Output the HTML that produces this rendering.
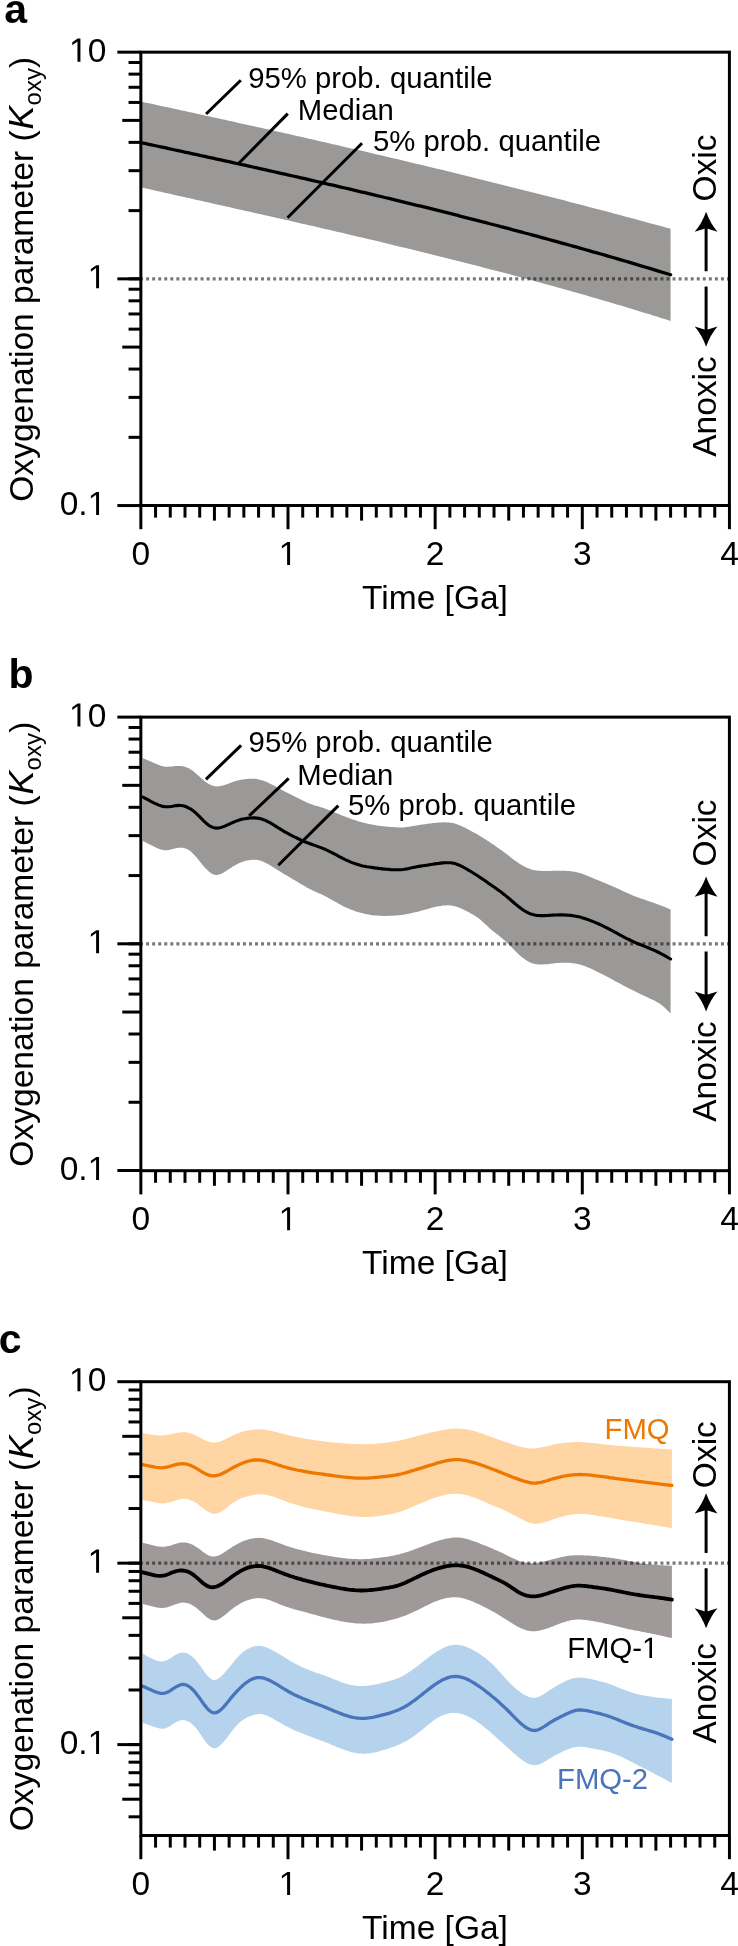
<!DOCTYPE html><html><head><meta charset="utf-8"><style>html,body{margin:0;padding:0;background:#fff}svg{display:block;will-change:transform}</style></head><body><svg width="738" height="1946" viewBox="0 0 738 1946">
<style>.t{font-family:"Liberation Sans",sans-serif;font-size:33.5px;fill:#000}.s{font-family:"Liberation Sans",sans-serif;font-size:29.3px;fill:#000}.p{font-family:"Liberation Sans",sans-serif;font-size:41px;font-weight:bold;fill:#000}</style>
<rect width="738" height="1946" fill="#fff"/>
<path d="M140.8,101.5L144.8,102.4L148.8,103.3L152.8,104.1L156.8,105.0L160.8,105.9L164.8,106.7L168.8,107.6L172.8,108.5L176.8,109.3L180.8,110.2L184.8,111.1L188.8,111.9L192.8,112.8L196.8,113.7L200.8,114.6L204.8,115.4L208.8,116.3L212.8,117.2L216.8,118.1L220.8,119.0L224.8,119.8L228.8,120.7L232.8,121.6L236.8,122.5L240.8,123.4L244.8,124.3L248.8,125.2L252.8,126.0L256.9,126.9L260.9,127.8L264.9,128.7L268.9,129.6L272.9,130.5L276.9,131.4L280.9,132.3L284.9,133.2L288.9,134.1L292.9,135.0L296.9,135.9L300.9,136.8L304.9,137.8L308.9,138.7L312.9,139.6L316.9,140.5L320.9,141.4L324.9,142.3L328.9,143.2L332.9,144.2L336.9,145.1L340.9,146.0L344.9,146.9L348.9,147.9L352.9,148.8L356.9,149.7L360.9,150.6L364.9,151.6L368.9,152.5L372.9,153.4L376.9,154.4L380.9,155.3L384.9,156.3L388.9,157.2L392.9,158.2L396.9,159.1L400.9,160.0L404.9,161.0L408.9,161.9L412.9,162.9L416.9,163.9L420.9,164.8L424.9,165.8L428.9,166.7L432.9,167.7L436.9,168.7L440.9,169.6L444.9,170.6L448.9,171.6L452.9,172.5L456.9,173.5L460.9,174.5L464.9,175.5L468.9,176.4L472.9,177.4L476.9,178.4L480.9,179.4L484.9,180.4L488.9,181.4L492.9,182.4L496.9,183.4L500.9,184.4L504.9,185.4L508.9,186.4L512.9,187.4L516.9,188.4L520.9,189.4L524.9,190.4L528.9,191.4L532.9,192.4L536.9,193.4L540.9,194.5L544.9,195.5L548.9,196.5L552.9,197.5L556.9,198.6L560.9,199.6L564.9,200.6L568.9,201.7L572.9,202.7L576.9,203.7L580.9,204.8L584.9,205.8L588.9,206.9L592.9,207.9L596.9,209.0L600.9,210.0L604.9,211.1L608.9,212.1L612.9,213.2L616.9,214.3L620.9,215.3L624.9,216.4L628.9,217.5L632.9,218.6L636.9,219.6L640.9,220.7L644.9,221.8L648.9,222.9L652.9,224.0L656.9,225.1L660.9,226.1L664.9,227.2L668.9,228.3L670.6,228.8 L670.59,320.95 L668.9,320.4L664.9,319.1L660.9,317.9L656.9,316.6L652.9,315.4L648.9,314.1L644.9,312.9L640.9,311.7L636.9,310.5L632.9,309.2L628.9,308.0L624.9,306.8L620.9,305.6L616.9,304.4L612.9,303.3L608.9,302.1L604.9,300.9L600.9,299.7L596.9,298.6L592.9,297.4L588.9,296.2L584.9,295.1L580.9,293.9L576.9,292.8L572.9,291.7L568.9,290.5L564.9,289.4L560.9,288.3L556.9,287.2L552.9,286.1L548.9,285.0L544.9,283.9L540.9,282.8L536.9,281.7L532.9,280.6L528.9,279.5L524.9,278.4L520.9,277.3L516.9,276.3L512.9,275.2L508.9,274.1L504.9,273.1L500.9,272.0L496.9,271.0L492.9,269.9L488.9,268.9L484.9,267.9L480.9,266.8L476.9,265.8L472.9,264.8L468.9,263.7L464.9,262.7L460.9,261.7L456.9,260.7L452.9,259.7L448.9,258.7L444.9,257.7L440.9,256.7L436.9,255.7L432.9,254.7L428.9,253.7L424.9,252.7L420.9,251.7L416.9,250.8L412.9,249.8L408.9,248.8L404.9,247.8L400.9,246.9L396.9,245.9L392.9,244.9L388.9,244.0L384.9,243.0L380.9,242.1L376.9,241.1L372.9,240.1L368.9,239.2L364.9,238.3L360.9,237.3L356.9,236.4L352.9,235.4L348.9,234.5L344.9,233.6L340.9,232.6L336.9,231.7L332.9,230.8L328.9,229.8L324.9,228.9L320.9,228.0L316.9,227.1L312.9,226.1L308.9,225.2L304.9,224.3L300.9,223.4L296.9,222.5L292.9,221.5L288.9,220.6L284.9,219.7L280.9,218.8L276.9,217.9L272.9,217.0L268.9,216.1L264.9,215.2L260.9,214.3L256.9,213.4L252.8,212.5L248.8,211.6L244.8,210.7L240.8,209.8L236.8,208.9L232.8,208.0L228.8,207.1L224.8,206.2L220.8,205.3L216.8,204.4L212.8,203.5L208.8,202.6L204.8,201.7L200.8,200.8L196.8,199.9L192.8,199.0L188.8,198.1L184.8,197.2L180.8,196.3L176.8,195.4L172.8,194.5L168.8,193.6L164.8,192.7L160.8,191.8L156.8,190.9L152.8,190.0L148.8,189.1L144.8,188.2L140.8,187.3 Z" fill="#9a9998"/>
<path d="M140.8,142.6L144.8,143.4L148.8,144.3L152.8,145.2L156.8,146.0L160.8,146.9L164.8,147.7L168.8,148.6L172.8,149.5L176.8,150.3L180.8,151.2L184.8,152.1L188.8,152.9L192.8,153.8L196.8,154.7L200.8,155.6L204.8,156.4L208.8,157.3L212.8,158.2L216.8,159.1L220.8,159.9L224.8,160.8L228.8,161.7L232.8,162.6L236.8,163.5L240.8,164.4L244.8,165.2L248.8,166.1L252.8,167.0L256.9,167.9L260.9,168.8L264.9,169.7L268.9,170.6L272.9,171.5L276.9,172.4L280.9,173.3L284.9,174.2L288.9,175.1L292.9,176.0L296.9,176.9L300.9,177.8L304.9,178.7L308.9,179.7L312.9,180.6L316.9,181.5L320.9,182.4L324.9,183.3L328.9,184.3L332.9,185.2L336.9,186.1L340.9,187.1L344.9,188.0L348.9,188.9L352.9,189.9L356.9,190.8L360.9,191.8L364.9,192.7L368.9,193.7L372.9,194.6L376.9,195.6L380.9,196.5L384.9,197.5L388.9,198.4L392.9,199.4L396.9,200.4L400.9,201.3L404.9,202.3L408.9,203.3L412.9,204.3L416.9,205.3L420.9,206.2L424.9,207.2L428.9,208.2L432.9,209.2L436.9,210.2L440.9,211.2L444.9,212.2L448.9,213.2L452.9,214.2L456.9,215.2L460.9,216.3L464.9,217.3L468.9,218.3L472.9,219.3L476.9,220.3L480.9,221.4L484.9,222.4L488.9,223.5L492.9,224.5L496.9,225.5L500.9,226.6L504.9,227.6L508.9,228.7L512.9,229.8L516.9,230.8L520.9,231.9L524.9,233.0L528.9,234.0L532.9,235.1L536.9,236.2L540.9,237.3L544.9,238.4L548.9,239.5L552.9,240.6L556.9,241.7L560.9,242.8L564.9,243.9L568.9,245.0L572.9,246.1L576.9,247.2L580.9,248.4L584.9,249.5L588.9,250.6L592.9,251.8L596.9,252.9L600.9,254.0L604.9,255.2L608.9,256.4L612.9,257.5L616.9,258.7L620.9,259.8L624.9,261.0L628.9,262.2L632.9,263.4L636.9,264.6L640.9,265.8L644.9,267.0L648.9,268.2L652.9,269.4L656.9,270.6L660.9,271.8L664.9,273.0L668.9,274.2L670.6,274.8" fill="none" stroke="#000" stroke-width="3.3" stroke-linecap="round"/>
<line x1="140.05" y1="278.85" x2="729" y2="278.85" stroke="#000" stroke-opacity="0.53" stroke-width="3.3" stroke-dasharray="3.0 3.051"/>
<path d="M142.8,758.1L144.8,758.9L146.8,759.8L148.8,760.7L150.8,761.6L152.8,762.5L154.8,763.3L156.8,764.2L158.8,765.0L160.8,765.8L162.8,766.3L164.8,766.7L166.8,766.8L168.8,766.8L170.8,766.6L172.8,766.4L174.8,766.1L176.8,766.0L178.8,765.9L180.8,766.0L182.8,766.3L184.8,766.7L186.8,767.4L188.8,768.3L190.8,769.5L192.8,770.8L194.8,772.4L196.8,774.2L198.8,776.0L200.8,777.8L202.8,779.6L204.8,781.3L206.8,782.7L208.8,784.0L210.8,785.0L212.8,785.7L214.8,786.2L216.8,786.4L218.8,786.3L220.8,786.0L222.8,785.5L224.8,784.9L226.8,784.2L228.8,783.4L230.8,782.7L232.8,781.9L234.8,781.3L236.8,780.7L238.8,780.2L240.8,779.8L242.8,779.5L244.8,779.2L246.8,779.0L248.8,778.8L250.8,778.8L252.8,778.7L254.8,778.8L256.8,779.0L258.8,779.4L260.8,779.9L262.8,780.5L264.8,781.3L266.8,782.1L268.8,783.0L270.8,784.0L272.8,785.1L274.8,786.1L276.8,787.2L278.8,788.3L280.8,789.3L282.8,790.4L284.8,791.4L286.8,792.4L288.8,793.4L290.8,794.4L292.8,795.4L294.8,796.4L296.8,797.5L298.8,798.5L300.8,799.5L302.8,800.5L304.8,801.5L306.8,802.4L308.8,803.2L310.8,804.0L312.8,804.7L314.8,805.4L316.8,806.0L318.8,806.6L320.8,807.2L322.8,807.8L324.8,808.5L326.8,809.2L328.8,809.9L330.8,810.7L332.8,811.6L334.8,812.4L336.8,813.3L338.8,814.1L340.8,814.9L342.8,815.7L344.8,816.5L346.8,817.3L348.8,818.1L350.8,818.8L352.8,819.5L354.8,820.1L356.8,820.8L358.8,821.4L360.8,821.9L362.8,822.5L364.8,823.0L366.8,823.4L368.8,823.9L370.8,824.3L372.8,824.7L374.8,825.1L376.8,825.4L378.8,825.7L380.8,826.0L382.8,826.2L384.8,826.4L386.8,826.6L388.8,826.8L390.8,826.9L392.8,827.1L394.8,827.2L396.8,827.3L398.8,827.4L400.8,827.4L402.8,827.4L404.8,827.3L406.8,827.1L408.8,826.8L410.8,826.5L412.8,826.1L414.8,825.8L416.8,825.5L418.8,825.1L420.8,824.8L422.8,824.5L424.8,824.2L426.8,823.9L428.8,823.6L430.8,823.4L432.8,823.1L434.8,822.9L436.8,822.7L438.8,822.6L440.8,822.4L442.8,822.3L444.8,822.3L446.8,822.4L448.8,822.5L450.8,822.7L452.8,823.1L454.8,823.5L456.8,824.2L458.8,824.9L460.8,825.7L462.8,826.7L464.8,827.6L466.8,828.7L468.8,829.7L470.8,830.8L472.8,831.9L474.8,833.0L476.8,834.1L478.8,835.2L480.8,836.4L482.8,837.7L484.8,838.9L486.8,840.2L488.8,841.6L490.8,842.9L492.8,844.2L494.8,845.6L496.8,847.0L498.8,848.4L500.8,849.8L502.8,851.3L504.8,852.8L506.8,854.3L508.8,855.8L510.8,857.4L512.8,858.9L514.8,860.4L516.8,861.8L518.8,863.2L520.8,864.5L522.8,865.7L524.8,866.8L526.8,867.8L528.8,868.6L530.8,869.3L532.8,869.9L534.8,870.3L536.8,870.6L538.8,870.7L540.8,870.8L542.8,870.9L544.8,870.9L546.8,870.9L548.8,870.9L550.8,870.9L552.8,870.8L554.8,870.8L556.8,870.8L558.8,870.7L560.8,870.7L562.8,870.7L564.8,870.8L566.8,870.9L568.8,871.0L570.8,871.2L572.8,871.5L574.8,871.8L576.8,872.2L578.8,872.7L580.8,873.3L582.8,874.0L584.8,874.8L586.8,875.5L588.8,876.4L590.8,877.2L592.8,878.1L594.8,878.9L596.8,879.7L598.8,880.5L600.8,881.3L602.8,882.2L604.8,883.0L606.8,883.8L608.8,884.7L610.8,885.5L612.8,886.4L614.8,887.3L616.8,888.2L618.8,889.1L620.8,890.1L622.8,891.0L624.8,891.9L626.8,892.8L628.8,893.7L630.8,894.6L632.8,895.5L634.8,896.3L636.8,897.0L638.8,897.8L640.8,898.5L642.8,899.1L644.8,899.8L646.8,900.5L648.8,901.2L650.8,901.8L652.8,902.5L654.8,903.2L656.8,903.9L658.8,904.7L660.8,905.5L662.8,906.3L664.8,907.1L666.8,907.9L668.8,908.8L670.6,909.6 L670.59,1013.48 L668.8,1011.7L666.8,1009.7L664.8,1007.8L662.8,1006.1L660.8,1004.5L658.8,1003.1L656.8,1001.9L654.8,1000.8L652.8,999.8L650.8,998.9L648.8,998.0L646.8,997.1L644.8,996.1L642.8,995.2L640.8,994.2L638.8,993.2L636.8,992.2L634.8,991.2L632.8,990.2L630.8,989.2L628.8,988.2L626.8,987.2L624.8,986.2L622.8,985.2L620.8,984.1L618.8,983.1L616.8,982.0L614.8,980.9L612.8,979.8L610.8,978.7L608.8,977.6L606.8,976.6L604.8,975.5L602.8,974.4L600.8,973.4L598.8,972.4L596.8,971.4L594.8,970.4L592.8,969.5L590.8,968.6L588.8,967.7L586.8,966.9L584.8,966.1L582.8,965.4L580.8,964.8L578.8,964.3L576.8,963.8L574.8,963.5L572.8,963.2L570.8,963.0L568.8,962.8L566.8,962.7L564.8,962.7L562.8,962.7L560.8,962.8L558.8,963.0L556.8,963.1L554.8,963.3L552.8,963.5L550.8,963.8L548.8,964.0L546.8,964.2L544.8,964.3L542.8,964.5L540.8,964.5L538.8,964.5L536.8,964.3L534.8,964.0L532.8,963.5L530.8,962.8L528.8,961.8L526.8,960.7L524.8,959.3L522.8,957.8L520.8,956.2L518.8,954.4L516.8,952.5L514.8,950.5L512.8,948.5L510.8,946.5L508.8,944.5L506.8,942.5L504.8,940.6L502.8,938.9L500.8,937.2L498.8,935.6L496.8,934.1L494.8,932.5L492.8,930.9L490.8,929.3L488.8,927.5L486.8,925.6L484.8,923.7L482.8,921.9L480.8,920.1L478.8,918.6L476.8,917.1L474.8,915.8L472.8,914.6L470.8,913.4L468.8,912.3L466.8,911.3L464.8,910.2L462.8,909.2L460.8,908.3L458.8,907.5L456.8,906.8L454.8,906.2L452.8,905.8L450.8,905.5L448.8,905.3L446.8,905.3L444.8,905.4L442.8,905.6L440.8,905.9L438.8,906.2L436.8,906.6L434.8,907.1L432.8,907.6L430.8,908.1L428.8,908.7L426.8,909.2L424.8,909.8L422.8,910.3L420.8,910.8L418.8,911.4L416.8,911.9L414.8,912.3L412.8,912.8L410.8,913.2L408.8,913.7L406.8,914.0L404.8,914.4L402.8,914.7L400.8,915.0L398.8,915.2L396.8,915.4L394.8,915.5L392.8,915.7L390.8,915.8L388.8,915.8L386.8,915.9L384.8,915.9L382.8,915.9L380.8,915.8L378.8,915.7L376.8,915.6L374.8,915.4L372.8,915.2L370.8,914.9L368.8,914.5L366.8,914.2L364.8,913.8L362.8,913.3L360.8,912.8L358.8,912.3L356.8,911.7L354.8,911.1L352.8,910.3L350.8,909.6L348.8,908.7L346.8,907.8L344.8,906.9L342.8,905.9L340.8,904.8L338.8,903.7L336.8,902.6L334.8,901.5L332.8,900.4L330.8,899.3L328.8,898.2L326.8,897.1L324.8,896.0L322.8,895.0L320.8,894.1L318.8,893.2L316.8,892.3L314.8,891.4L312.8,890.4L310.8,889.5L308.8,888.4L306.8,887.4L304.8,886.2L302.8,885.1L300.8,883.9L298.8,882.7L296.8,881.5L294.8,880.3L292.8,879.2L290.8,878.0L288.8,876.8L286.8,875.6L284.8,874.5L282.8,873.3L280.8,872.0L278.8,870.8L276.8,869.5L274.8,868.2L272.8,867.0L270.8,865.8L268.8,864.6L266.8,863.5L264.8,862.4L262.8,861.5L260.8,860.7L258.8,860.2L256.8,859.8L254.8,859.7L252.8,859.7L250.8,859.9L248.8,860.2L246.8,860.5L244.8,861.0L242.8,861.7L240.8,862.4L238.8,863.3L236.8,864.2L234.8,865.4L232.8,866.6L230.8,867.9L228.8,869.2L226.8,870.5L224.8,871.8L222.8,873.0L220.8,874.0L218.8,874.6L216.8,875.0L214.8,874.8L212.8,874.2L210.8,873.1L208.8,871.5L206.8,869.6L204.8,867.5L202.8,865.2L200.8,862.7L198.8,860.3L196.8,857.8L194.8,855.5L192.8,853.4L190.8,851.6L188.8,850.1L186.8,849.0L184.8,848.2L182.8,847.8L180.8,847.7L178.8,847.8L176.8,848.1L174.8,848.6L172.8,849.1L170.8,849.6L168.8,850.0L166.8,850.2L164.8,850.2L162.8,850.0L160.8,849.5L158.8,848.8L156.8,848.0L154.8,847.0L152.8,846.0L150.8,845.0L148.8,844.0L146.8,843.0L144.8,842.0L142.8,841.1 Z" fill="#9a9998"/>
<path d="M142.8,797.2L144.8,798.2L146.8,799.2L148.8,800.2L150.8,801.3L152.8,802.3L154.8,803.3L156.8,804.2L158.8,805.1L160.8,805.8L162.8,806.4L164.8,806.7L166.8,806.8L168.8,806.7L170.8,806.5L172.8,806.2L174.8,805.8L176.8,805.6L178.8,805.4L180.8,805.5L182.8,805.8L184.8,806.3L186.8,807.0L188.8,808.0L190.8,809.1L192.8,810.5L194.8,812.1L196.8,813.9L198.8,815.9L200.8,817.9L202.8,820.0L204.8,822.0L206.8,823.8L208.8,825.3L210.8,826.5L212.8,827.4L214.8,827.9L216.8,828.1L218.8,828.0L220.8,827.5L222.8,826.9L224.8,826.1L226.8,825.2L228.8,824.3L230.8,823.4L232.8,822.5L234.8,821.6L236.8,820.9L238.8,820.2L240.8,819.6L242.8,819.1L244.8,818.7L246.8,818.4L248.8,818.1L250.8,818.0L252.8,817.9L254.8,817.9L256.8,818.1L258.8,818.4L260.8,818.8L262.8,819.4L264.8,820.2L266.8,821.1L268.8,822.1L270.8,823.2L272.8,824.4L274.8,825.6L276.8,826.9L278.8,828.2L280.8,829.4L282.8,830.6L284.8,831.8L286.8,832.9L288.8,834.0L290.8,835.0L292.8,836.1L294.8,837.1L296.8,838.0L298.8,839.0L300.8,839.9L302.8,840.8L304.8,841.7L306.8,842.5L308.8,843.3L310.8,844.0L312.8,844.7L314.8,845.4L316.8,846.1L318.8,846.9L320.8,847.6L322.8,848.4L324.8,849.2L326.8,850.2L328.8,851.1L330.8,852.1L332.8,853.1L334.8,854.2L336.8,855.2L338.8,856.3L340.8,857.3L342.8,858.4L344.8,859.4L346.8,860.3L348.8,861.2L350.8,862.1L352.8,862.9L354.8,863.6L356.8,864.2L358.8,864.8L360.8,865.4L362.8,865.9L364.8,866.3L366.8,866.7L368.8,867.0L370.8,867.3L372.8,867.6L374.8,867.9L376.8,868.1L378.8,868.4L380.8,868.6L382.8,868.9L384.8,869.1L386.8,869.3L388.8,869.4L390.8,869.6L392.8,869.7L394.8,869.8L396.8,869.8L398.8,869.8L400.8,869.7L402.8,869.5L404.8,869.2L406.8,868.9L408.8,868.5L410.8,868.0L412.8,867.6L414.8,867.2L416.8,866.8L418.8,866.4L420.8,866.1L422.8,865.8L424.8,865.5L426.8,865.2L428.8,864.9L430.8,864.5L432.8,864.2L434.8,863.9L436.8,863.6L438.8,863.4L440.8,863.1L442.8,862.9L444.8,862.7L446.8,862.7L448.8,862.7L450.8,862.8L452.8,863.1L454.8,863.6L456.8,864.2L458.8,865.0L460.8,865.9L462.8,866.9L464.8,868.0L466.8,869.2L468.8,870.3L470.8,871.5L472.8,872.7L474.8,874.0L476.8,875.2L478.8,876.5L480.8,877.9L482.8,879.2L484.8,880.6L486.8,882.0L488.8,883.4L490.8,884.8L492.8,886.2L494.8,887.6L496.8,889.0L498.8,890.4L500.8,891.8L502.8,893.4L504.8,894.9L506.8,896.6L508.8,898.3L510.8,900.0L512.8,901.8L514.8,903.5L516.8,905.1L518.8,906.8L520.8,908.3L522.8,909.7L524.8,911.0L526.8,912.2L528.8,913.2L530.8,914.0L532.8,914.6L534.8,915.1L536.8,915.4L538.8,915.5L540.8,915.6L542.8,915.6L544.8,915.6L546.8,915.5L548.8,915.4L550.8,915.3L552.8,915.1L554.8,915.0L556.8,915.0L558.8,914.9L560.8,914.9L562.8,914.9L564.8,915.0L566.8,915.1L568.8,915.2L570.8,915.4L572.8,915.7L574.8,916.0L576.8,916.4L578.8,916.8L580.8,917.3L582.8,917.9L584.8,918.5L586.8,919.2L588.8,919.9L590.8,920.7L592.8,921.4L594.8,922.3L596.8,923.1L598.8,924.0L600.8,924.9L602.8,925.8L604.8,926.8L606.8,927.8L608.8,928.8L610.8,929.9L612.8,931.0L614.8,932.1L616.8,933.2L618.8,934.3L620.8,935.4L622.8,936.5L624.8,937.5L626.8,938.6L628.8,939.5L630.8,940.5L632.8,941.4L634.8,942.3L636.8,943.2L638.8,944.0L640.8,944.8L642.8,945.6L644.8,946.4L646.8,947.2L648.8,948.0L650.8,948.9L652.8,949.7L654.8,950.6L656.8,951.5L658.8,952.5L660.8,953.5L662.8,954.6L664.8,955.7L666.8,956.8L668.8,958.0L670.6,959.0" fill="none" stroke="#000" stroke-width="3.1" stroke-linecap="round"/>
<line x1="140.05" y1="943.80" x2="729" y2="943.80" stroke="#000" stroke-opacity="0.53" stroke-width="3.3" stroke-dasharray="3.0 3.051"/>
<path d="M142.8,1433.0L144.8,1433.4L146.8,1433.8L148.8,1434.1L150.8,1434.4L152.8,1434.8L154.8,1435.0L156.8,1435.2L158.8,1435.4L160.8,1435.4L162.8,1435.4L164.8,1435.2L166.8,1434.9L168.8,1434.6L170.8,1434.2L172.8,1433.7L174.8,1433.3L176.8,1432.9L178.8,1432.5L180.8,1432.3L182.8,1432.2L184.8,1432.3L186.8,1432.5L188.8,1432.9L190.8,1433.4L192.8,1434.1L194.8,1434.9L196.8,1435.8L198.8,1436.9L200.8,1438.0L202.8,1439.1L204.8,1440.2L206.8,1441.1L208.8,1441.8L210.8,1442.3L212.8,1442.6L214.8,1442.6L216.8,1442.3L218.8,1441.9L220.8,1441.2L222.8,1440.4L224.8,1439.5L226.8,1438.5L228.8,1437.5L230.8,1436.5L232.8,1435.5L234.8,1434.6L236.8,1433.7L238.8,1432.9L240.8,1432.2L242.8,1431.6L244.8,1431.1L246.8,1430.7L248.8,1430.3L250.8,1430.0L252.8,1429.7L254.8,1429.5L256.8,1429.4L258.8,1429.3L260.8,1429.4L262.8,1429.5L264.8,1429.7L266.8,1430.0L268.8,1430.4L270.8,1430.8L272.8,1431.2L274.8,1431.7L276.8,1432.2L278.8,1432.8L280.8,1433.3L282.8,1433.8L284.8,1434.3L286.8,1434.8L288.8,1435.3L290.8,1435.8L292.8,1436.2L294.8,1436.7L296.8,1437.1L298.8,1437.5L300.8,1437.9L302.8,1438.3L304.8,1438.7L306.8,1439.0L308.8,1439.3L310.8,1439.6L312.8,1439.9L314.8,1440.2L316.8,1440.5L318.8,1440.8L320.8,1441.0L322.8,1441.3L324.8,1441.5L326.8,1441.7L328.8,1441.9L330.8,1442.2L332.8,1442.4L334.8,1442.6L336.8,1442.8L338.8,1443.0L340.8,1443.1L342.8,1443.3L344.8,1443.5L346.8,1443.6L348.8,1443.7L350.8,1443.9L352.8,1444.0L354.8,1444.1L356.8,1444.1L358.8,1444.2L360.8,1444.2L362.8,1444.2L364.8,1444.2L366.8,1444.1L368.8,1444.1L370.8,1444.0L372.8,1443.9L374.8,1443.8L376.8,1443.6L378.8,1443.5L380.8,1443.3L382.8,1443.1L384.8,1442.9L386.8,1442.6L388.8,1442.4L390.8,1442.1L392.8,1441.8L394.8,1441.4L396.8,1441.1L398.8,1440.7L400.8,1440.2L402.8,1439.8L404.8,1439.3L406.8,1438.8L408.8,1438.3L410.8,1437.7L412.8,1437.2L414.8,1436.7L416.8,1436.1L418.8,1435.6L420.8,1435.1L422.8,1434.6L424.8,1434.1L426.8,1433.6L428.8,1433.1L430.8,1432.6L432.8,1432.1L434.8,1431.7L436.8,1431.2L438.8,1430.8L440.8,1430.4L442.8,1430.0L444.8,1429.7L446.8,1429.4L448.8,1429.1L450.8,1428.9L452.8,1428.7L454.8,1428.6L456.8,1428.6L458.8,1428.6L460.8,1428.7L462.8,1428.9L464.8,1429.1L466.8,1429.5L468.8,1429.8L470.8,1430.3L472.8,1430.7L474.8,1431.3L476.8,1431.9L478.8,1432.5L480.8,1433.1L482.8,1433.8L484.8,1434.5L486.8,1435.3L488.8,1436.0L490.8,1436.7L492.8,1437.5L494.8,1438.2L496.8,1438.9L498.8,1439.7L500.8,1440.4L502.8,1441.1L504.8,1441.8L506.8,1442.5L508.8,1443.1L510.8,1443.8L512.8,1444.5L514.8,1445.1L516.8,1445.7L518.8,1446.3L520.8,1446.8L522.8,1447.3L524.8,1447.7L526.8,1448.0L528.8,1448.3L530.8,1448.4L532.8,1448.5L534.8,1448.4L536.8,1448.2L538.8,1447.9L540.8,1447.5L542.8,1447.1L544.8,1446.7L546.8,1446.2L548.8,1445.7L550.8,1445.2L552.8,1444.7L554.8,1444.3L556.8,1443.9L558.8,1443.5L560.8,1443.2L562.8,1443.0L564.8,1442.7L566.8,1442.5L568.8,1442.4L570.8,1442.3L572.8,1442.2L574.8,1442.1L576.8,1442.1L578.8,1442.1L580.8,1442.2L582.8,1442.3L584.8,1442.4L586.8,1442.6L588.8,1442.7L590.8,1442.9L592.8,1443.1L594.8,1443.3L596.8,1443.6L598.8,1443.8L600.8,1444.0L602.8,1444.2L604.8,1444.5L606.8,1444.7L608.8,1444.9L610.8,1445.1L612.8,1445.3L614.8,1445.5L616.8,1445.7L618.8,1445.8L620.8,1446.0L622.8,1446.1L624.8,1446.3L626.8,1446.4L628.8,1446.6L630.8,1446.7L632.8,1446.9L634.8,1447.0L636.8,1447.1L638.8,1447.3L640.8,1447.4L642.8,1447.5L644.8,1447.7L646.8,1447.8L648.8,1447.9L650.8,1448.1L652.8,1448.2L654.8,1448.4L656.8,1448.5L658.8,1448.6L660.8,1448.8L662.8,1448.9L664.8,1449.0L666.8,1449.2L668.8,1449.3L670.8,1449.4L671.9,1449.5 L671.90,1528.20 L670.8,1528.0L668.8,1527.7L666.8,1527.3L664.8,1527.0L662.8,1526.7L660.8,1526.3L658.8,1526.0L656.8,1525.6L654.8,1525.3L652.8,1525.0L650.8,1524.6L648.8,1524.3L646.8,1524.0L644.8,1523.6L642.8,1523.3L640.8,1523.0L638.8,1522.6L636.8,1522.3L634.8,1522.0L632.8,1521.7L630.8,1521.3L628.8,1521.0L626.8,1520.7L624.8,1520.4L622.8,1520.0L620.8,1519.7L618.8,1519.4L616.8,1519.0L614.8,1518.7L612.8,1518.3L610.8,1518.0L608.8,1517.6L606.8,1517.3L604.8,1516.9L602.8,1516.6L600.8,1516.2L598.8,1515.9L596.8,1515.5L594.8,1515.2L592.8,1514.9L590.8,1514.7L588.8,1514.5L586.8,1514.3L584.8,1514.1L582.8,1514.0L580.8,1514.0L578.8,1514.0L576.8,1514.1L574.8,1514.3L572.8,1514.5L570.8,1514.8L568.8,1515.1L566.8,1515.5L564.8,1516.0L562.8,1516.5L560.8,1517.0L558.8,1517.6L556.8,1518.2L554.8,1518.8L552.8,1519.5L550.8,1520.2L548.8,1520.9L546.8,1521.6L544.8,1522.2L542.8,1522.7L540.8,1523.2L538.8,1523.5L536.8,1523.7L534.8,1523.7L532.8,1523.5L530.8,1523.0L528.8,1522.4L526.8,1521.7L524.8,1520.8L522.8,1519.8L520.8,1518.8L518.8,1517.7L516.8,1516.6L514.8,1515.5L512.8,1514.4L510.8,1513.4L508.8,1512.3L506.8,1511.4L504.8,1510.5L502.8,1509.6L500.8,1508.7L498.8,1507.9L496.8,1507.1L494.8,1506.3L492.8,1505.4L490.8,1504.6L488.8,1503.7L486.8,1502.8L484.8,1502.0L482.8,1501.1L480.8,1500.2L478.8,1499.4L476.8,1498.6L474.8,1497.8L472.8,1497.1L470.8,1496.5L468.8,1495.8L466.8,1495.3L464.8,1494.8L462.8,1494.4L460.8,1494.1L458.8,1493.9L456.8,1493.7L454.8,1493.7L452.8,1493.8L450.8,1493.9L448.8,1494.1L446.8,1494.5L444.8,1494.9L442.8,1495.4L440.8,1495.9L438.8,1496.5L436.8,1497.2L434.8,1497.9L432.8,1498.6L430.8,1499.3L428.8,1500.1L426.8,1500.9L424.8,1501.7L422.8,1502.5L420.8,1503.3L418.8,1504.1L416.8,1505.0L414.8,1505.8L412.8,1506.7L410.8,1507.5L408.8,1508.4L406.8,1509.2L404.8,1510.0L402.8,1510.8L400.8,1511.5L398.8,1512.1L396.8,1512.7L394.8,1513.2L392.8,1513.7L390.8,1514.1L388.8,1514.5L386.8,1514.8L384.8,1515.1L382.8,1515.4L380.8,1515.7L378.8,1515.9L376.8,1516.2L374.8,1516.4L372.8,1516.6L370.8,1516.7L368.8,1516.9L366.8,1516.9L364.8,1517.0L362.8,1517.0L360.8,1516.9L358.8,1516.8L356.8,1516.7L354.8,1516.5L352.8,1516.3L350.8,1516.0L348.8,1515.7L346.8,1515.4L344.8,1515.1L342.8,1514.8L340.8,1514.4L338.8,1514.0L336.8,1513.7L334.8,1513.3L332.8,1512.9L330.8,1512.5L328.8,1512.1L326.8,1511.7L324.8,1511.4L322.8,1511.0L320.8,1510.6L318.8,1510.3L316.8,1509.9L314.8,1509.5L312.8,1509.1L310.8,1508.6L308.8,1508.2L306.8,1507.7L304.8,1507.2L302.8,1506.7L300.8,1506.2L298.8,1505.6L296.8,1505.0L294.8,1504.3L292.8,1503.7L290.8,1503.0L288.8,1502.4L286.8,1501.7L284.8,1500.9L282.8,1500.2L280.8,1499.5L278.8,1498.7L276.8,1498.0L274.8,1497.2L272.8,1496.6L270.8,1495.9L268.8,1495.4L266.8,1494.9L264.8,1494.5L262.8,1494.3L260.8,1494.2L258.8,1494.2L256.8,1494.4L254.8,1494.7L252.8,1495.1L250.8,1495.5L248.8,1496.0L246.8,1496.5L244.8,1497.0L242.8,1497.7L240.8,1498.5L238.8,1499.4L236.8,1500.5L234.8,1501.7L232.8,1503.1L230.8,1504.5L228.8,1506.1L226.8,1507.7L224.8,1509.2L222.8,1510.6L220.8,1511.9L218.8,1512.8L216.8,1513.5L214.8,1513.8L212.8,1513.6L210.8,1513.0L208.8,1512.1L206.8,1510.9L204.8,1509.5L202.8,1508.0L200.8,1506.5L198.8,1505.0L196.8,1503.6L194.8,1502.3L192.8,1501.1L190.8,1500.2L188.8,1499.5L186.8,1499.0L184.8,1498.8L182.8,1498.8L180.8,1499.0L178.8,1499.4L176.8,1500.0L174.8,1500.7L172.8,1501.3L170.8,1502.0L168.8,1502.5L166.8,1503.0L164.8,1503.3L162.8,1503.4L160.8,1503.3L158.8,1503.1L156.8,1502.8L154.8,1502.5L152.8,1502.0L150.8,1501.6L148.8,1501.2L146.8,1500.8L144.8,1500.5L142.8,1500.1 Z" fill="#fed5a3"/>
<path d="M142.8,1542.8L144.8,1543.3L146.8,1543.8L148.8,1544.3L150.8,1544.8L152.8,1545.3L154.8,1545.8L156.8,1546.2L158.8,1546.5L160.8,1546.7L162.8,1546.8L164.8,1546.7L166.8,1546.3L168.8,1545.9L170.8,1545.4L172.8,1544.7L174.8,1544.1L176.8,1543.5L178.8,1543.0L180.8,1542.6L182.8,1542.4L184.8,1542.5L186.8,1542.7L188.8,1543.2L190.8,1543.9L192.8,1544.8L194.8,1545.9L196.8,1547.2L198.8,1548.6L200.8,1550.1L202.8,1551.7L204.8,1553.1L206.8,1554.5L208.8,1555.5L210.8,1556.2L212.8,1556.6L214.8,1556.5L216.8,1556.1L218.8,1555.4L220.8,1554.5L222.8,1553.3L224.8,1552.0L226.8,1550.6L228.8,1549.2L230.8,1547.9L232.8,1546.6L234.8,1545.4L236.8,1544.2L238.8,1543.2L240.8,1542.2L242.8,1541.3L244.8,1540.6L246.8,1539.9L248.8,1539.3L250.8,1538.8L252.8,1538.4L254.8,1538.1L256.8,1537.9L258.8,1537.8L260.8,1537.9L262.8,1538.1L264.8,1538.5L266.8,1538.9L268.8,1539.5L270.8,1540.1L272.8,1540.8L274.8,1541.5L276.8,1542.2L278.8,1543.0L280.8,1543.7L282.8,1544.5L284.8,1545.2L286.8,1545.9L288.8,1546.5L290.8,1547.2L292.8,1547.8L294.8,1548.4L296.8,1548.9L298.8,1549.5L300.8,1550.0L302.8,1550.6L304.8,1551.1L306.8,1551.5L308.8,1552.0L310.8,1552.4L312.8,1552.9L314.8,1553.3L316.8,1553.7L318.8,1554.1L320.8,1554.5L322.8,1554.9L324.8,1555.2L326.8,1555.6L328.8,1555.9L330.8,1556.2L332.8,1556.6L334.8,1556.9L336.8,1557.2L338.8,1557.5L340.8,1557.8L342.8,1558.0L344.8,1558.3L346.8,1558.5L348.8,1558.7L350.8,1558.8L352.8,1559.0L354.8,1559.1L356.8,1559.1L358.8,1559.2L360.8,1559.2L362.8,1559.2L364.8,1559.1L366.8,1559.0L368.8,1558.9L370.8,1558.7L372.8,1558.5L374.8,1558.3L376.8,1558.1L378.8,1557.8L380.8,1557.6L382.8,1557.3L384.8,1557.0L386.8,1556.7L388.8,1556.4L390.8,1556.0L392.8,1555.7L394.8,1555.3L396.8,1554.8L398.8,1554.4L400.8,1553.8L402.8,1553.3L404.8,1552.7L406.8,1552.1L408.8,1551.4L410.8,1550.7L412.8,1550.0L414.8,1549.3L416.8,1548.5L418.8,1547.7L420.8,1547.0L422.8,1546.2L424.8,1545.4L426.8,1544.7L428.8,1543.9L430.8,1543.2L432.8,1542.5L434.8,1541.8L436.8,1541.2L438.8,1540.6L440.8,1540.0L442.8,1539.5L444.8,1539.0L446.8,1538.6L448.8,1538.2L450.8,1537.9L452.8,1537.6L454.8,1537.5L456.8,1537.4L458.8,1537.5L460.8,1537.7L462.8,1538.1L464.8,1538.5L466.8,1539.0L468.8,1539.5L470.8,1540.2L472.8,1540.9L474.8,1541.6L476.8,1542.3L478.8,1543.1L480.8,1543.9L482.8,1544.7L484.8,1545.5L486.8,1546.3L488.8,1547.1L490.8,1548.0L492.8,1548.8L494.8,1549.7L496.8,1550.6L498.8,1551.4L500.8,1552.3L502.8,1553.3L504.8,1554.2L506.8,1555.2L508.8,1556.2L510.8,1557.2L512.8,1558.2L514.8,1559.1L516.8,1560.0L518.8,1560.8L520.8,1561.5L522.8,1562.1L524.8,1562.5L526.8,1562.8L528.8,1563.0L530.8,1563.2L532.8,1563.2L534.8,1563.1L536.8,1562.9L538.8,1562.6L540.8,1562.2L542.8,1561.8L544.8,1561.3L546.8,1560.8L548.8,1560.3L550.8,1559.8L552.8,1559.3L554.8,1558.7L556.8,1558.2L558.8,1557.7L560.8,1557.2L562.8,1556.8L564.8,1556.4L566.8,1556.1L568.8,1555.8L570.8,1555.6L572.8,1555.4L574.8,1555.3L576.8,1555.2L578.8,1555.2L580.8,1555.2L582.8,1555.3L584.8,1555.4L586.8,1555.5L588.8,1555.6L590.8,1555.8L592.8,1556.0L594.8,1556.1L596.8,1556.3L598.8,1556.5L600.8,1556.7L602.8,1556.9L604.8,1557.1L606.8,1557.4L608.8,1557.6L610.8,1557.9L612.8,1558.1L614.8,1558.4L616.8,1558.7L618.8,1559.0L620.8,1559.4L622.8,1559.7L624.8,1560.1L626.8,1560.5L628.8,1560.9L630.8,1561.3L632.8,1561.7L634.8,1562.1L636.8,1562.5L638.8,1562.8L640.8,1563.2L642.8,1563.5L644.8,1563.8L646.8,1564.0L648.8,1564.2L650.8,1564.4L652.8,1564.6L654.8,1564.8L656.8,1564.9L658.8,1565.1L660.8,1565.2L662.8,1565.3L664.8,1565.4L666.8,1565.6L668.8,1565.7L670.8,1565.8L671.9,1565.8 L671.90,1638.10 L670.8,1637.8L668.8,1637.4L666.8,1636.9L664.8,1636.5L662.8,1636.0L660.8,1635.6L658.8,1635.2L656.8,1634.7L654.8,1634.3L652.8,1633.9L650.8,1633.5L648.8,1633.1L646.8,1632.7L644.8,1632.3L642.8,1631.9L640.8,1631.5L638.8,1631.1L636.8,1630.8L634.8,1630.4L632.8,1630.0L630.8,1629.6L628.8,1629.2L626.8,1628.8L624.8,1628.3L622.8,1627.8L620.8,1627.3L618.8,1626.8L616.8,1626.3L614.8,1625.8L612.8,1625.3L610.8,1624.8L608.8,1624.3L606.8,1623.9L604.8,1623.4L602.8,1623.0L600.8,1622.6L598.8,1622.2L596.8,1621.8L594.8,1621.5L592.8,1621.1L590.8,1620.8L588.8,1620.4L586.8,1620.1L584.8,1619.9L582.8,1619.7L580.8,1619.5L578.8,1619.5L576.8,1619.5L574.8,1619.7L572.8,1619.9L570.8,1620.3L568.8,1620.8L566.8,1621.3L564.8,1621.9L562.8,1622.6L560.8,1623.3L558.8,1624.1L556.8,1624.8L554.8,1625.6L552.8,1626.4L550.8,1627.1L548.8,1627.9L546.8,1628.6L544.8,1629.2L542.8,1629.8L540.8,1630.3L538.8,1630.8L536.8,1631.1L534.8,1631.3L532.8,1631.3L530.8,1631.2L528.8,1630.8L526.8,1630.4L524.8,1629.8L522.8,1629.1L520.8,1628.2L518.8,1627.3L516.8,1626.2L514.8,1625.0L512.8,1623.8L510.8,1622.5L508.8,1621.2L506.8,1619.9L504.8,1618.7L502.8,1617.4L500.8,1616.2L498.8,1615.0L496.8,1613.8L494.8,1612.6L492.8,1611.5L490.8,1610.4L488.8,1609.3L486.8,1608.2L484.8,1607.2L482.8,1606.2L480.8,1605.2L478.8,1604.3L476.8,1603.4L474.8,1602.5L472.8,1601.6L470.8,1600.8L468.8,1600.0L466.8,1599.4L464.8,1598.7L462.8,1598.2L460.8,1597.8L458.8,1597.5L456.8,1597.3L454.8,1597.2L452.8,1597.3L450.8,1597.5L448.8,1597.8L446.8,1598.1L444.8,1598.5L442.8,1599.1L440.8,1599.6L438.8,1600.3L436.8,1601.0L434.8,1601.8L432.8,1602.6L430.8,1603.5L428.8,1604.4L426.8,1605.4L424.8,1606.3L422.8,1607.4L420.8,1608.4L418.8,1609.4L416.8,1610.4L414.8,1611.3L412.8,1612.3L410.8,1613.2L408.8,1614.0L406.8,1614.9L404.8,1615.7L402.8,1616.4L400.8,1617.1L398.8,1617.8L396.8,1618.4L394.8,1619.0L392.8,1619.6L390.8,1620.1L388.8,1620.6L386.8,1621.1L384.8,1621.5L382.8,1621.9L380.8,1622.2L378.8,1622.5L376.8,1622.8L374.8,1623.0L372.8,1623.3L370.8,1623.4L368.8,1623.6L366.8,1623.6L364.8,1623.7L362.8,1623.7L360.8,1623.6L358.8,1623.5L356.8,1623.4L354.8,1623.3L352.8,1623.1L350.8,1622.8L348.8,1622.5L346.8,1622.2L344.8,1621.9L342.8,1621.5L340.8,1621.2L338.8,1620.8L336.8,1620.3L334.8,1619.9L332.8,1619.4L330.8,1618.9L328.8,1618.5L326.8,1618.0L324.8,1617.4L322.8,1616.9L320.8,1616.4L318.8,1615.9L316.8,1615.3L314.8,1614.8L312.8,1614.2L310.8,1613.7L308.8,1613.2L306.8,1612.6L304.8,1612.1L302.8,1611.5L300.8,1611.0L298.8,1610.5L296.8,1609.9L294.8,1609.4L292.8,1608.8L290.8,1608.2L288.8,1607.5L286.8,1606.9L284.8,1606.2L282.8,1605.5L280.8,1604.7L278.8,1603.9L276.8,1603.1L274.8,1602.2L272.8,1601.4L270.8,1600.6L268.8,1599.9L266.8,1599.3L264.8,1598.8L262.8,1598.4L260.8,1598.2L258.8,1598.1L256.8,1598.2L254.8,1598.5L252.8,1598.8L250.8,1599.3L248.8,1599.9L246.8,1600.5L244.8,1601.3L242.8,1602.2L240.8,1603.2L238.8,1604.4L236.8,1605.7L234.8,1607.0L232.8,1608.5L230.8,1610.1L228.8,1611.7L226.8,1613.4L224.8,1615.0L222.8,1616.6L220.8,1618.0L218.8,1619.2L216.8,1620.0L214.8,1620.4L212.8,1620.3L210.8,1619.7L208.8,1618.6L206.8,1617.2L204.8,1615.5L202.8,1613.6L200.8,1611.7L198.8,1609.9L196.8,1608.2L194.8,1606.7L192.8,1605.4L190.8,1604.3L188.8,1603.5L186.8,1603.0L184.8,1602.7L182.8,1602.6L180.8,1602.8L178.8,1603.3L176.8,1603.9L174.8,1604.6L172.8,1605.3L170.8,1606.1L168.8,1606.8L166.8,1607.4L164.8,1607.8L162.8,1608.0L160.8,1608.0L158.8,1607.8L156.8,1607.4L154.8,1606.9L152.8,1606.4L150.8,1605.9L148.8,1605.4L146.8,1604.9L144.8,1604.5L142.8,1604.0 Z" fill="#9f9a99"/>
<path d="M142.8,1653.5L144.8,1654.7L146.8,1655.9L148.8,1657.0L150.8,1658.1L152.8,1659.0L154.8,1659.9L156.8,1660.6L158.8,1661.2L160.8,1661.4L162.8,1661.4L164.8,1661.0L166.8,1660.3L168.8,1659.2L170.8,1658.0L172.8,1656.6L174.8,1655.3L176.8,1654.2L178.8,1653.3L180.8,1652.7L182.8,1652.5L184.8,1652.7L186.8,1653.2L188.8,1654.2L190.8,1655.5L192.8,1657.2L194.8,1659.1L196.8,1661.4L198.8,1663.9L200.8,1666.6L202.8,1669.5L204.8,1672.3L206.8,1674.9L208.8,1677.1L210.8,1678.8L212.8,1679.8L214.8,1680.1L216.8,1679.5L218.8,1678.3L220.8,1676.7L222.8,1674.8L224.8,1672.6L226.8,1670.3L228.8,1667.9L230.8,1665.4L232.8,1662.9L234.8,1660.4L236.8,1658.1L238.8,1656.0L240.8,1654.0L242.8,1652.3L244.8,1650.8L246.8,1649.6L248.8,1648.4L250.8,1647.5L252.8,1646.8L254.8,1646.3L256.8,1646.0L258.8,1645.9L260.8,1646.0L262.8,1646.3L264.8,1646.9L266.8,1647.6L268.8,1648.4L270.8,1649.4L272.8,1650.4L274.8,1651.5L276.8,1652.7L278.8,1653.9L280.8,1655.1L282.8,1656.3L284.8,1657.6L286.8,1658.8L288.8,1660.0L290.8,1661.2L292.8,1662.3L294.8,1663.4L296.8,1664.5L298.8,1665.5L300.8,1666.5L302.8,1667.4L304.8,1668.3L306.8,1669.1L308.8,1670.0L310.8,1670.7L312.8,1671.5L314.8,1672.2L316.8,1672.9L318.8,1673.5L320.8,1674.2L322.8,1674.9L324.8,1675.6L326.8,1676.3L328.8,1677.1L330.8,1677.9L332.8,1678.7L334.8,1679.5L336.8,1680.3L338.8,1681.1L340.8,1681.9L342.8,1682.7L344.8,1683.3L346.8,1684.0L348.8,1684.5L350.8,1685.0L352.8,1685.3L354.8,1685.6L356.8,1685.9L358.8,1686.0L360.8,1686.1L362.8,1686.1L364.8,1686.0L366.8,1685.8L368.8,1685.6L370.8,1685.3L372.8,1685.0L374.8,1684.6L376.8,1684.2L378.8,1683.8L380.8,1683.3L382.8,1682.8L384.8,1682.3L386.8,1681.8L388.8,1681.3L390.8,1680.7L392.8,1680.0L394.8,1679.4L396.8,1678.6L398.8,1677.8L400.8,1676.9L402.8,1675.9L404.8,1674.8L406.8,1673.6L408.8,1672.3L410.8,1670.9L412.8,1669.5L414.8,1668.0L416.8,1666.5L418.8,1665.0L420.8,1663.4L422.8,1661.8L424.8,1660.3L426.8,1658.7L428.8,1657.2L430.8,1655.7L432.8,1654.3L434.8,1652.9L436.8,1651.6L438.8,1650.4L440.8,1649.3L442.8,1648.2L444.8,1647.3L446.8,1646.5L448.8,1645.8L450.8,1645.3L452.8,1644.9L454.8,1644.7L456.8,1644.7L458.8,1644.9L460.8,1645.2L462.8,1645.7L464.8,1646.3L466.8,1647.0L468.8,1647.9L470.8,1648.8L472.8,1649.9L474.8,1651.0L476.8,1652.2L478.8,1653.5L480.8,1654.8L482.8,1656.2L484.8,1657.6L486.8,1659.2L488.8,1660.9L490.8,1662.7L492.8,1664.6L494.8,1666.6L496.8,1668.7L498.8,1670.9L500.8,1673.1L502.8,1675.4L504.8,1677.6L506.8,1679.8L508.8,1681.9L510.8,1684.0L512.8,1685.9L514.8,1687.7L516.8,1689.5L518.8,1691.1L520.8,1692.6L522.8,1693.9L524.8,1695.1L526.8,1696.1L528.8,1696.9L530.8,1697.5L532.8,1697.8L534.8,1697.8L536.8,1697.4L538.8,1696.7L540.8,1695.8L542.8,1694.7L544.8,1693.5L546.8,1692.2L548.8,1690.8L550.8,1689.5L552.8,1688.2L554.8,1687.0L556.8,1685.8L558.8,1684.6L560.8,1683.5L562.8,1682.5L564.8,1681.5L566.8,1680.6L568.8,1679.8L570.8,1679.1L572.8,1678.4L574.8,1678.0L576.8,1677.7L578.8,1677.5L580.8,1677.5L582.8,1677.7L584.8,1677.9L586.8,1678.2L588.8,1678.6L590.8,1679.1L592.8,1679.5L594.8,1680.0L596.8,1680.4L598.8,1680.9L600.8,1681.4L602.8,1682.0L604.8,1682.5L606.8,1683.1L608.8,1683.8L610.8,1684.5L612.8,1685.3L614.8,1686.0L616.8,1686.9L618.8,1687.7L620.8,1688.5L622.8,1689.3L624.8,1690.1L626.8,1690.8L628.8,1691.5L630.8,1692.2L632.8,1692.8L634.8,1693.4L636.8,1693.9L638.8,1694.4L640.8,1694.9L642.8,1695.3L644.8,1695.7L646.8,1696.0L648.8,1696.3L650.8,1696.6L652.8,1696.9L654.8,1697.2L656.8,1697.4L658.8,1697.7L660.8,1697.9L662.8,1698.1L664.8,1698.3L666.8,1698.6L668.8,1698.8L670.8,1699.0L671.9,1699.1 L671.90,1783.09 L670.8,1782.5L668.8,1781.4L666.8,1780.3L664.8,1779.2L662.8,1778.1L660.8,1777.0L658.8,1776.0L656.8,1774.9L654.8,1773.9L652.8,1772.8L650.8,1771.8L648.8,1770.8L646.8,1769.8L644.8,1768.8L642.8,1767.7L640.8,1766.7L638.8,1765.7L636.8,1764.6L634.8,1763.6L632.8,1762.5L630.8,1761.5L628.8,1760.5L626.8,1759.5L624.8,1758.5L622.8,1757.6L620.8,1756.6L618.8,1755.8L616.8,1754.9L614.8,1754.1L612.8,1753.4L610.8,1752.7L608.8,1752.1L606.8,1751.5L604.8,1751.0L602.8,1750.6L600.8,1750.1L598.8,1749.7L596.8,1749.3L594.8,1749.0L592.8,1748.6L590.8,1748.2L588.8,1747.8L586.8,1747.4L584.8,1747.1L582.8,1746.9L580.8,1746.8L578.8,1746.7L576.8,1746.9L574.8,1747.2L572.8,1747.6L570.8,1748.2L568.8,1748.9L566.8,1749.7L564.8,1750.6L562.8,1751.5L560.8,1752.4L558.8,1753.4L556.8,1754.5L554.8,1755.6L552.8,1756.7L550.8,1757.9L548.8,1759.1L546.8,1760.4L544.8,1761.6L542.8,1762.7L540.8,1763.7L538.8,1764.5L536.8,1765.0L534.8,1765.3L532.8,1765.1L530.8,1764.7L528.8,1763.9L526.8,1762.9L524.8,1761.8L522.8,1760.4L520.8,1759.0L518.8,1757.5L516.8,1755.8L514.8,1754.1L512.8,1752.4L510.8,1750.6L508.8,1748.8L506.8,1747.0L504.8,1745.1L502.8,1743.3L500.8,1741.5L498.8,1739.7L496.8,1737.9L494.8,1736.1L492.8,1734.3L490.8,1732.6L488.8,1730.8L486.8,1729.2L484.8,1727.5L482.8,1725.9L480.8,1724.3L478.8,1722.9L476.8,1721.4L474.8,1720.1L472.8,1718.9L470.8,1717.8L468.8,1716.7L466.8,1715.8L464.8,1715.0L462.8,1714.3L460.8,1713.7L458.8,1713.3L456.8,1713.0L454.8,1712.9L452.8,1712.9L450.8,1713.1L448.8,1713.4L446.8,1713.9L444.8,1714.5L442.8,1715.2L440.8,1716.1L438.8,1717.2L436.8,1718.3L434.8,1719.7L432.8,1721.1L430.8,1722.7L428.8,1724.3L426.8,1725.9L424.8,1727.6L422.8,1729.3L420.8,1730.9L418.8,1732.5L416.8,1734.1L414.8,1735.5L412.8,1736.9L410.8,1738.2L408.8,1739.5L406.8,1740.7L404.8,1741.8L402.8,1742.8L400.8,1743.8L398.8,1744.7L396.8,1745.6L394.8,1746.4L392.8,1747.1L390.8,1747.8L388.8,1748.5L386.8,1749.1L384.8,1749.7L382.8,1750.3L380.8,1750.8L378.8,1751.4L376.8,1751.9L374.8,1752.4L372.8,1752.8L370.8,1753.1L368.8,1753.4L366.8,1753.6L364.8,1753.7L362.8,1753.7L360.8,1753.6L358.8,1753.4L356.8,1753.2L354.8,1752.8L352.8,1752.4L350.8,1751.9L348.8,1751.3L346.8,1750.7L344.8,1750.0L342.8,1749.3L340.8,1748.5L338.8,1747.7L336.8,1746.9L334.8,1746.1L332.8,1745.2L330.8,1744.4L328.8,1743.6L326.8,1742.8L324.8,1742.0L322.8,1741.2L320.8,1740.4L318.8,1739.7L316.8,1738.9L314.8,1738.2L312.8,1737.4L310.8,1736.7L308.8,1735.9L306.8,1735.2L304.8,1734.4L302.8,1733.6L300.8,1732.8L298.8,1732.0L296.8,1731.2L294.8,1730.4L292.8,1729.5L290.8,1728.5L288.8,1727.5L286.8,1726.5L284.8,1725.4L282.8,1724.3L280.8,1723.1L278.8,1722.0L276.8,1720.9L274.8,1719.7L272.8,1718.6L270.8,1717.5L268.8,1716.5L266.8,1715.6L264.8,1714.9L262.8,1714.3L260.8,1714.0L258.8,1714.0L256.8,1714.2L254.8,1714.6L252.8,1715.2L250.8,1715.9L248.8,1716.7L246.8,1717.6L244.8,1718.7L242.8,1719.9L240.8,1721.4L238.8,1723.2L236.8,1725.2L234.8,1727.5L232.8,1730.0L230.8,1732.6L228.8,1735.3L226.8,1737.9L224.8,1740.4L222.8,1742.8L220.8,1744.9L218.8,1746.6L216.8,1747.8L214.8,1748.3L212.8,1748.1L210.8,1747.1L208.8,1745.5L206.8,1743.3L204.8,1740.7L202.8,1737.7L200.8,1734.7L198.8,1731.8L196.8,1729.1L194.8,1726.7L192.8,1724.7L190.8,1723.1L188.8,1721.8L186.8,1720.9L184.8,1720.3L182.8,1720.1L180.8,1720.3L178.8,1720.9L176.8,1721.7L174.8,1722.8L172.8,1724.1L170.8,1725.5L168.8,1726.7L166.8,1727.7L164.8,1728.4L162.8,1728.7L160.8,1728.7L158.8,1728.3L156.8,1727.8L154.8,1727.1L152.8,1726.4L150.8,1725.7L148.8,1724.9L146.8,1724.2L144.8,1723.5L142.8,1722.9 Z" fill="#b6d3ee"/>
<line x1="140.05" y1="1563.15" x2="729" y2="1563.15" stroke="#000" stroke-opacity="0.53" stroke-width="3.3" stroke-dasharray="3.0 3.051"/>
<path d="M142.8,1464.7L144.8,1465.1L146.8,1465.5L148.8,1465.9L150.8,1466.3L152.8,1466.7L154.8,1467.1L156.8,1467.4L158.8,1467.6L160.8,1467.8L162.8,1467.7L164.8,1467.5L166.8,1467.2L168.8,1466.7L170.8,1466.1L172.8,1465.5L174.8,1464.9L176.8,1464.4L178.8,1464.0L180.8,1463.8L182.8,1463.7L184.8,1463.9L186.8,1464.2L188.8,1464.8L190.8,1465.5L192.8,1466.4L194.8,1467.4L196.8,1468.6L198.8,1469.8L200.8,1471.1L202.8,1472.3L204.8,1473.4L206.8,1474.4L208.8,1475.1L210.8,1475.6L212.8,1475.9L214.8,1475.8L216.8,1475.5L218.8,1474.9L220.8,1474.2L222.8,1473.3L224.8,1472.3L226.8,1471.2L228.8,1470.1L230.8,1468.9L232.8,1467.8L234.8,1466.7L236.8,1465.7L238.8,1464.7L240.8,1463.9L242.8,1463.0L244.8,1462.3L246.8,1461.6L248.8,1461.0L250.8,1460.6L252.8,1460.2L254.8,1460.0L256.8,1460.0L258.8,1460.0L260.8,1460.2L262.8,1460.5L264.8,1460.9L266.8,1461.4L268.8,1461.9L270.8,1462.5L272.8,1463.2L274.8,1463.8L276.8,1464.5L278.8,1465.2L280.8,1465.8L282.8,1466.5L284.8,1467.0L286.8,1467.6L288.8,1468.1L290.8,1468.6L292.8,1469.1L294.8,1469.5L296.8,1470.0L298.8,1470.4L300.8,1470.7L302.8,1471.1L304.8,1471.5L306.8,1471.8L308.8,1472.1L310.8,1472.5L312.8,1472.8L314.8,1473.1L316.8,1473.4L318.8,1473.6L320.8,1473.9L322.8,1474.2L324.8,1474.5L326.8,1474.8L328.8,1475.0L330.8,1475.3L332.8,1475.6L334.8,1475.9L336.8,1476.1L338.8,1476.4L340.8,1476.7L342.8,1476.9L344.8,1477.1L346.8,1477.3L348.8,1477.5L350.8,1477.7L352.8,1477.9L354.8,1478.0L356.8,1478.1L358.8,1478.1L360.8,1478.2L362.8,1478.2L364.8,1478.1L366.8,1478.1L368.8,1478.0L370.8,1477.8L372.8,1477.7L374.8,1477.5L376.8,1477.3L378.8,1477.1L380.8,1476.9L382.8,1476.7L384.8,1476.5L386.8,1476.3L388.8,1476.0L390.8,1475.8L392.8,1475.5L394.8,1475.2L396.8,1474.8L398.8,1474.4L400.8,1474.0L402.8,1473.5L404.8,1473.0L406.8,1472.4L408.8,1471.8L410.8,1471.2L412.8,1470.6L414.8,1470.0L416.8,1469.4L418.8,1468.8L420.8,1468.2L422.8,1467.6L424.8,1466.9L426.8,1466.3L428.8,1465.7L430.8,1465.1L432.8,1464.5L434.8,1463.9L436.8,1463.2L438.8,1462.7L440.8,1462.1L442.8,1461.6L444.8,1461.1L446.8,1460.7L448.8,1460.3L450.8,1460.0L452.8,1459.8L454.8,1459.7L456.8,1459.7L458.8,1459.7L460.8,1459.9L462.8,1460.1L464.8,1460.4L466.8,1460.8L468.8,1461.3L470.8,1461.8L472.8,1462.3L474.8,1462.9L476.8,1463.5L478.8,1464.2L480.8,1464.8L482.8,1465.5L484.8,1466.2L486.8,1467.0L488.8,1467.7L490.8,1468.5L492.8,1469.2L494.8,1470.0L496.8,1470.8L498.8,1471.6L500.8,1472.4L502.8,1473.2L504.8,1474.0L506.8,1474.8L508.8,1475.6L510.8,1476.4L512.8,1477.2L514.8,1477.9L516.8,1478.6L518.8,1479.4L520.8,1480.1L522.8,1480.7L524.8,1481.4L526.8,1481.9L528.8,1482.4L530.8,1482.8L532.8,1483.0L534.8,1483.1L536.8,1483.0L538.8,1482.7L540.8,1482.4L542.8,1481.9L544.8,1481.4L546.8,1480.8L548.8,1480.1L550.8,1479.5L552.8,1478.9L554.8,1478.3L556.8,1477.8L558.8,1477.3L560.8,1476.8L562.8,1476.4L564.8,1476.0L566.8,1475.6L568.8,1475.3L570.8,1475.1L572.8,1474.9L574.8,1474.7L576.8,1474.6L578.8,1474.6L580.8,1474.5L582.8,1474.6L584.8,1474.7L586.8,1474.8L588.8,1474.9L590.8,1475.1L592.8,1475.3L594.8,1475.6L596.8,1475.8L598.8,1476.1L600.8,1476.3L602.8,1476.6L604.8,1476.9L606.8,1477.2L608.8,1477.5L610.8,1477.8L612.8,1478.0L614.8,1478.3L616.8,1478.6L618.8,1478.9L620.8,1479.1L622.8,1479.4L624.8,1479.7L626.8,1479.9L628.8,1480.2L630.8,1480.4L632.8,1480.7L634.8,1480.9L636.8,1481.2L638.8,1481.5L640.8,1481.7L642.8,1481.9L644.8,1482.2L646.8,1482.4L648.8,1482.7L650.8,1482.9L652.8,1483.2L654.8,1483.4L656.8,1483.6L658.8,1483.9L660.8,1484.1L662.8,1484.3L664.8,1484.6L666.8,1484.8L668.8,1485.0L670.8,1485.3L671.9,1485.4" fill="none" stroke="#ee7700" stroke-width="3.3" stroke-linecap="round"/>
<path d="M142.8,1572.3L144.8,1572.8L146.8,1573.3L148.8,1573.8L150.8,1574.3L152.8,1574.8L154.8,1575.3L156.8,1575.6L158.8,1575.8L160.8,1575.9L162.8,1575.7L164.8,1575.3L166.8,1574.7L168.8,1574.0L170.8,1573.1L172.8,1572.3L174.8,1571.6L176.8,1571.0L178.8,1570.6L180.8,1570.5L182.8,1570.5L184.8,1570.8L186.8,1571.3L188.8,1572.1L190.8,1573.1L192.8,1574.4L194.8,1575.9L196.8,1577.6L198.8,1579.4L200.8,1581.2L202.8,1583.0L204.8,1584.5L206.8,1585.7L208.8,1586.6L210.8,1587.1L212.8,1587.3L214.8,1587.0L216.8,1586.5L218.8,1585.6L220.8,1584.5L222.8,1583.3L224.8,1581.9L226.8,1580.4L228.8,1579.0L230.8,1577.5L232.8,1576.0L234.8,1574.7L236.8,1573.3L238.8,1572.1L240.8,1570.9L242.8,1569.9L244.8,1568.9L246.8,1568.1L248.8,1567.4L250.8,1566.9L252.8,1566.5L254.8,1566.2L256.8,1566.0L258.8,1566.0L260.8,1566.2L262.8,1566.4L264.8,1566.8L266.8,1567.3L268.8,1567.9L270.8,1568.6L272.8,1569.4L274.8,1570.1L276.8,1570.9L278.8,1571.8L280.8,1572.5L282.8,1573.3L284.8,1574.1L286.8,1574.8L288.8,1575.5L290.8,1576.2L292.8,1576.8L294.8,1577.5L296.8,1578.1L298.8,1578.7L300.8,1579.2L302.8,1579.8L304.8,1580.3L306.8,1580.9L308.8,1581.4L310.8,1581.9L312.8,1582.4L314.8,1582.9L316.8,1583.3L318.8,1583.8L320.8,1584.3L322.8,1584.7L324.8,1585.1L326.8,1585.6L328.8,1586.0L330.8,1586.4L332.8,1586.8L334.8,1587.2L336.8,1587.6L338.8,1588.0L340.8,1588.4L342.8,1588.7L344.8,1589.0L346.8,1589.3L348.8,1589.6L350.8,1589.8L352.8,1590.0L354.8,1590.2L356.8,1590.3L358.8,1590.4L360.8,1590.5L362.8,1590.5L364.8,1590.4L366.8,1590.3L368.8,1590.2L370.8,1590.0L372.8,1589.8L374.8,1589.6L376.8,1589.4L378.8,1589.1L380.8,1588.8L382.8,1588.5L384.8,1588.2L386.8,1587.9L388.8,1587.6L390.8,1587.2L392.8,1586.8L394.8,1586.3L396.8,1585.8L398.8,1585.2L400.8,1584.5L402.8,1583.7L404.8,1582.9L406.8,1582.0L408.8,1581.1L410.8,1580.1L412.8,1579.1L414.8,1578.1L416.8,1577.2L418.8,1576.2L420.8,1575.2L422.8,1574.3L424.8,1573.4L426.8,1572.5L428.8,1571.7L430.8,1570.9L432.8,1570.1L434.8,1569.4L436.8,1568.8L438.8,1568.1L440.8,1567.6L442.8,1567.1L444.8,1566.6L446.8,1566.2L448.8,1565.9L450.8,1565.6L452.8,1565.4L454.8,1565.3L456.8,1565.3L458.8,1565.4L460.8,1565.6L462.8,1565.8L464.8,1566.2L466.8,1566.7L468.8,1567.2L470.8,1567.8L472.8,1568.5L474.8,1569.2L476.8,1570.0L478.8,1570.8L480.8,1571.7L482.8,1572.6L484.8,1573.5L486.8,1574.4L488.8,1575.4L490.8,1576.3L492.8,1577.2L494.8,1578.2L496.8,1579.1L498.8,1580.1L500.8,1581.1L502.8,1582.1L504.8,1583.2L506.8,1584.4L508.8,1585.6L510.8,1587.0L512.8,1588.4L514.8,1589.7L516.8,1591.1L518.8,1592.3L520.8,1593.4L522.8,1594.3L524.8,1595.0L526.8,1595.6L528.8,1596.0L530.8,1596.3L532.8,1596.4L534.8,1596.4L536.8,1596.2L538.8,1595.8L540.8,1595.4L542.8,1594.9L544.8,1594.3L546.8,1593.7L548.8,1593.0L550.8,1592.3L552.8,1591.7L554.8,1591.0L556.8,1590.4L558.8,1589.7L560.8,1589.1L562.8,1588.5L564.8,1587.9L566.8,1587.4L568.8,1586.9L570.8,1586.5L572.8,1586.1L574.8,1585.9L576.8,1585.7L578.8,1585.7L580.8,1585.7L582.8,1585.8L584.8,1586.0L586.8,1586.2L588.8,1586.5L590.8,1586.7L592.8,1587.0L594.8,1587.3L596.8,1587.5L598.8,1587.8L600.8,1588.1L602.8,1588.4L604.8,1588.7L606.8,1589.0L608.8,1589.3L610.8,1589.7L612.8,1590.1L614.8,1590.5L616.8,1590.9L618.8,1591.3L620.8,1591.7L622.8,1592.1L624.8,1592.5L626.8,1592.9L628.8,1593.3L630.8,1593.7L632.8,1594.0L634.8,1594.4L636.8,1594.7L638.8,1595.0L640.8,1595.3L642.8,1595.6L644.8,1595.9L646.8,1596.1L648.8,1596.4L650.8,1596.6L652.8,1596.9L654.8,1597.2L656.8,1597.4L658.8,1597.7L660.8,1598.0L662.8,1598.2L664.8,1598.5L666.8,1598.8L668.8,1599.1L670.8,1599.4L671.9,1599.6" fill="none" stroke="#000" stroke-width="3.8" stroke-linecap="round"/>
<path d="M142.8,1686.3L144.8,1687.1L146.8,1688.0L148.8,1688.9L150.8,1689.8L152.8,1690.7L154.8,1691.6L156.8,1692.3L158.8,1693.0L160.8,1693.3L162.8,1693.4L164.8,1693.1L166.8,1692.4L168.8,1691.5L170.8,1690.3L172.8,1688.9L174.8,1687.6L176.8,1686.4L178.8,1685.4L180.8,1684.7L182.8,1684.5L184.8,1684.6L186.8,1685.2L188.8,1686.3L190.8,1687.8L192.8,1689.7L194.8,1691.9L196.8,1694.4L198.8,1697.1L200.8,1699.9L202.8,1702.7L204.8,1705.4L206.8,1707.9L208.8,1710.0L210.8,1711.7L212.8,1712.6L214.8,1712.9L216.8,1712.4L218.8,1711.3L220.8,1709.8L222.8,1707.9L224.8,1705.6L226.8,1703.2L228.8,1700.8L230.8,1698.3L232.8,1695.9L234.8,1693.6L236.8,1691.4L238.8,1689.3L240.8,1687.4L242.8,1685.5L244.8,1683.8L246.8,1682.3L248.8,1680.9L250.8,1679.7L252.8,1678.8L254.8,1678.2L256.8,1677.7L258.8,1677.6L260.8,1677.6L262.8,1677.9L264.8,1678.5L266.8,1679.2L268.8,1680.0L270.8,1681.0L272.8,1682.1L274.8,1683.2L276.8,1684.4L278.8,1685.6L280.8,1686.9L282.8,1688.1L284.8,1689.3L286.8,1690.5L288.8,1691.7L290.8,1692.8L292.8,1693.9L294.8,1694.9L296.8,1695.8L298.8,1696.7L300.8,1697.6L302.8,1698.5L304.8,1699.3L306.8,1700.1L308.8,1700.9L310.8,1701.7L312.8,1702.5L314.8,1703.2L316.8,1704.0L318.8,1704.8L320.8,1705.5L322.8,1706.3L324.8,1707.1L326.8,1707.9L328.8,1708.7L330.8,1709.5L332.8,1710.4L334.8,1711.2L336.8,1712.0L338.8,1712.8L340.8,1713.6L342.8,1714.4L344.8,1715.1L346.8,1715.7L348.8,1716.3L350.8,1716.8L352.8,1717.3L354.8,1717.7L356.8,1718.0L358.8,1718.2L360.8,1718.3L362.8,1718.3L364.8,1718.3L366.8,1718.1L368.8,1717.9L370.8,1717.6L372.8,1717.3L374.8,1716.9L376.8,1716.4L378.8,1715.9L380.8,1715.4L382.8,1714.9L384.8,1714.4L386.8,1713.8L388.8,1713.3L390.8,1712.6L392.8,1712.0L394.8,1711.3L396.8,1710.5L398.8,1709.7L400.8,1708.8L402.8,1707.8L404.8,1706.7L406.8,1705.5L408.8,1704.3L410.8,1702.9L412.8,1701.5L414.8,1700.1L416.8,1698.6L418.8,1697.0L420.8,1695.5L422.8,1693.9L424.8,1692.3L426.8,1690.7L428.8,1689.1L430.8,1687.6L432.8,1686.1L434.8,1684.7L436.8,1683.3L438.8,1682.1L440.8,1680.9L442.8,1679.8L444.8,1678.9L446.8,1678.1L448.8,1677.4L450.8,1676.9L452.8,1676.6L454.8,1676.4L456.8,1676.5L458.8,1676.7L460.8,1677.1L462.8,1677.6L464.8,1678.3L466.8,1679.1L468.8,1680.1L470.8,1681.1L472.8,1682.3L474.8,1683.5L476.8,1684.8L478.8,1686.1L480.8,1687.5L482.8,1689.0L484.8,1690.5L486.8,1692.1L488.8,1693.6L490.8,1695.3L492.8,1696.9L494.8,1698.6L496.8,1700.3L498.8,1702.1L500.8,1703.9L502.8,1705.7L504.8,1707.6L506.8,1709.5L508.8,1711.5L510.8,1713.5L512.8,1715.6L514.8,1717.6L516.8,1719.6L518.8,1721.6L520.8,1723.4L522.8,1725.1L524.8,1726.7L526.8,1728.0L528.8,1729.1L530.8,1729.9L532.8,1730.4L534.8,1730.5L536.8,1730.2L538.8,1729.5L540.8,1728.6L542.8,1727.4L544.8,1726.2L546.8,1724.8L548.8,1723.5L550.8,1722.2L552.8,1721.0L554.8,1719.8L556.8,1718.8L558.8,1717.7L560.8,1716.7L562.8,1715.7L564.8,1714.8L566.8,1713.8L568.8,1712.9L570.8,1712.0L572.8,1711.3L574.8,1710.7L576.8,1710.2L578.8,1710.0L580.8,1710.0L582.8,1710.1L584.8,1710.3L586.8,1710.7L588.8,1711.1L590.8,1711.5L592.8,1712.0L594.8,1712.5L596.8,1712.9L598.8,1713.4L600.8,1713.9L602.8,1714.5L604.8,1715.0L606.8,1715.6L608.8,1716.3L610.8,1717.0L612.8,1717.7L614.8,1718.5L616.8,1719.3L618.8,1720.1L620.8,1720.9L622.8,1721.8L624.8,1722.6L626.8,1723.4L628.8,1724.1L630.8,1724.9L632.8,1725.6L634.8,1726.3L636.8,1726.9L638.8,1727.6L640.8,1728.2L642.8,1728.8L644.8,1729.4L646.8,1730.0L648.8,1730.6L650.8,1731.2L652.8,1731.8L654.8,1732.4L656.8,1733.1L658.8,1733.8L660.8,1734.6L662.8,1735.4L664.8,1736.2L666.8,1737.0L668.8,1737.9L670.8,1738.8L671.9,1739.3" fill="none" stroke="#4a74bb" stroke-width="3.3" stroke-linecap="round"/>
<rect x="140.85" y="52.15" width="588.55" height="453.35" fill="none" stroke="#000" stroke-width="3.0"/>
<line x1="117.35" y1="52.15" x2="140.85" y2="52.15" stroke="#000" stroke-width="3.0"/>
<line x1="128.55" y1="62.52" x2="140.85" y2="62.52" stroke="#000" stroke-width="3.0"/>
<line x1="128.55" y1="74.12" x2="140.85" y2="74.12" stroke="#000" stroke-width="3.0"/>
<line x1="128.55" y1="87.27" x2="140.85" y2="87.27" stroke="#000" stroke-width="3.0"/>
<line x1="128.55" y1="102.44" x2="140.85" y2="102.44" stroke="#000" stroke-width="3.0"/>
<line x1="122.25" y1="120.39" x2="140.85" y2="120.39" stroke="#000" stroke-width="3.0"/>
<line x1="128.55" y1="142.36" x2="140.85" y2="142.36" stroke="#000" stroke-width="3.0"/>
<line x1="128.55" y1="170.69" x2="140.85" y2="170.69" stroke="#000" stroke-width="3.0"/>
<line x1="128.55" y1="210.61" x2="140.85" y2="210.61" stroke="#000" stroke-width="3.0"/>
<line x1="128.55" y1="278.85" x2="140.85" y2="278.85" stroke="#000" stroke-width="3.0"/>
<line x1="117.35" y1="278.85" x2="140.85" y2="278.85" stroke="#000" stroke-width="3.0"/>
<line x1="128.55" y1="289.22" x2="140.85" y2="289.22" stroke="#000" stroke-width="3.0"/>
<line x1="128.55" y1="300.82" x2="140.85" y2="300.82" stroke="#000" stroke-width="3.0"/>
<line x1="128.55" y1="313.97" x2="140.85" y2="313.97" stroke="#000" stroke-width="3.0"/>
<line x1="128.55" y1="329.14" x2="140.85" y2="329.14" stroke="#000" stroke-width="3.0"/>
<line x1="122.25" y1="347.09" x2="140.85" y2="347.09" stroke="#000" stroke-width="3.0"/>
<line x1="128.55" y1="369.06" x2="140.85" y2="369.06" stroke="#000" stroke-width="3.0"/>
<line x1="128.55" y1="397.39" x2="140.85" y2="397.39" stroke="#000" stroke-width="3.0"/>
<line x1="128.55" y1="437.31" x2="140.85" y2="437.31" stroke="#000" stroke-width="3.0"/>
<line x1="117.35" y1="505.55" x2="140.85" y2="505.55" stroke="#000" stroke-width="3.0"/>
<line x1="140.85" y1="505.50" x2="140.85" y2="529.20" stroke="#000" stroke-width="3.0"/>
<line x1="155.56" y1="505.50" x2="155.56" y2="517.60" stroke="#000" stroke-width="3.0"/>
<line x1="170.28" y1="505.50" x2="170.28" y2="517.60" stroke="#000" stroke-width="3.0"/>
<line x1="185.00" y1="505.50" x2="185.00" y2="517.60" stroke="#000" stroke-width="3.0"/>
<line x1="199.71" y1="505.50" x2="199.71" y2="517.60" stroke="#000" stroke-width="3.0"/>
<line x1="214.43" y1="505.50" x2="214.43" y2="520.60" stroke="#000" stroke-width="3.0"/>
<line x1="229.14" y1="505.50" x2="229.14" y2="517.60" stroke="#000" stroke-width="3.0"/>
<line x1="243.85" y1="505.50" x2="243.85" y2="517.60" stroke="#000" stroke-width="3.0"/>
<line x1="258.57" y1="505.50" x2="258.57" y2="517.60" stroke="#000" stroke-width="3.0"/>
<line x1="273.28" y1="505.50" x2="273.28" y2="517.60" stroke="#000" stroke-width="3.0"/>
<line x1="288.00" y1="505.50" x2="288.00" y2="529.20" stroke="#000" stroke-width="3.0"/>
<line x1="302.72" y1="505.50" x2="302.72" y2="517.60" stroke="#000" stroke-width="3.0"/>
<line x1="317.43" y1="505.50" x2="317.43" y2="517.60" stroke="#000" stroke-width="3.0"/>
<line x1="332.14" y1="505.50" x2="332.14" y2="517.60" stroke="#000" stroke-width="3.0"/>
<line x1="346.86" y1="505.50" x2="346.86" y2="517.60" stroke="#000" stroke-width="3.0"/>
<line x1="361.57" y1="505.50" x2="361.57" y2="520.60" stroke="#000" stroke-width="3.0"/>
<line x1="376.29" y1="505.50" x2="376.29" y2="517.60" stroke="#000" stroke-width="3.0"/>
<line x1="391.00" y1="505.50" x2="391.00" y2="517.60" stroke="#000" stroke-width="3.0"/>
<line x1="405.72" y1="505.50" x2="405.72" y2="517.60" stroke="#000" stroke-width="3.0"/>
<line x1="420.43" y1="505.50" x2="420.43" y2="517.60" stroke="#000" stroke-width="3.0"/>
<line x1="435.15" y1="505.50" x2="435.15" y2="529.20" stroke="#000" stroke-width="3.0"/>
<line x1="449.87" y1="505.50" x2="449.87" y2="517.60" stroke="#000" stroke-width="3.0"/>
<line x1="464.58" y1="505.50" x2="464.58" y2="517.60" stroke="#000" stroke-width="3.0"/>
<line x1="479.30" y1="505.50" x2="479.30" y2="517.60" stroke="#000" stroke-width="3.0"/>
<line x1="494.01" y1="505.50" x2="494.01" y2="517.60" stroke="#000" stroke-width="3.0"/>
<line x1="508.73" y1="505.50" x2="508.73" y2="520.60" stroke="#000" stroke-width="3.0"/>
<line x1="523.44" y1="505.50" x2="523.44" y2="517.60" stroke="#000" stroke-width="3.0"/>
<line x1="538.15" y1="505.50" x2="538.15" y2="517.60" stroke="#000" stroke-width="3.0"/>
<line x1="552.87" y1="505.50" x2="552.87" y2="517.60" stroke="#000" stroke-width="3.0"/>
<line x1="567.59" y1="505.50" x2="567.59" y2="517.60" stroke="#000" stroke-width="3.0"/>
<line x1="582.30" y1="505.50" x2="582.30" y2="529.20" stroke="#000" stroke-width="3.0"/>
<line x1="597.02" y1="505.50" x2="597.02" y2="517.60" stroke="#000" stroke-width="3.0"/>
<line x1="611.73" y1="505.50" x2="611.73" y2="517.60" stroke="#000" stroke-width="3.0"/>
<line x1="626.44" y1="505.50" x2="626.44" y2="517.60" stroke="#000" stroke-width="3.0"/>
<line x1="641.16" y1="505.50" x2="641.16" y2="517.60" stroke="#000" stroke-width="3.0"/>
<line x1="655.88" y1="505.50" x2="655.88" y2="520.60" stroke="#000" stroke-width="3.0"/>
<line x1="670.59" y1="505.50" x2="670.59" y2="517.60" stroke="#000" stroke-width="3.0"/>
<line x1="685.31" y1="505.50" x2="685.31" y2="517.60" stroke="#000" stroke-width="3.0"/>
<line x1="700.02" y1="505.50" x2="700.02" y2="517.60" stroke="#000" stroke-width="3.0"/>
<line x1="714.74" y1="505.50" x2="714.74" y2="517.60" stroke="#000" stroke-width="3.0"/>
<line x1="729.45" y1="505.50" x2="729.45" y2="529.20" stroke="#000" stroke-width="3.0"/>
<text x="131.53" y="565.00" class="t">0</text>
<text x="278.68" y="565.00" class="t"> </text><path transform="translate(278.68,565.00) scale(0.01636,-0.01636)" d="M515,0 L515,1237 L197,1010 L197,1180 L530,1409 L696,1409 L696,0 Z" fill="#000"/>
<text x="425.83" y="565.00" class="t">2</text>
<text x="572.98" y="565.00" class="t">3</text>
<text x="720.13" y="565.00" class="t">4</text>
<text x="435" y="608.70" text-anchor="middle" class="t">Time [Ga]</text>
<text transform="translate(32.6,501.75) rotate(-90)" class="t" style="font-size:33.6px">Oxygenation parameter (<tspan font-style="italic" font-size="35.5" dx="0.8">K</tspan><tspan font-size="24" dy="8" dx="0.4">oxy</tspan><tspan dy="-8" dx="0.2">)</tspan></text>
<rect x="140.85" y="717.10" width="588.55" height="453.60" fill="none" stroke="#000" stroke-width="3.0"/>
<line x1="117.35" y1="717.10" x2="140.85" y2="717.10" stroke="#000" stroke-width="3.0"/>
<line x1="128.55" y1="727.47" x2="140.85" y2="727.47" stroke="#000" stroke-width="3.0"/>
<line x1="128.55" y1="739.07" x2="140.85" y2="739.07" stroke="#000" stroke-width="3.0"/>
<line x1="128.55" y1="752.22" x2="140.85" y2="752.22" stroke="#000" stroke-width="3.0"/>
<line x1="128.55" y1="767.39" x2="140.85" y2="767.39" stroke="#000" stroke-width="3.0"/>
<line x1="122.25" y1="785.34" x2="140.85" y2="785.34" stroke="#000" stroke-width="3.0"/>
<line x1="128.55" y1="807.31" x2="140.85" y2="807.31" stroke="#000" stroke-width="3.0"/>
<line x1="128.55" y1="835.64" x2="140.85" y2="835.64" stroke="#000" stroke-width="3.0"/>
<line x1="128.55" y1="875.56" x2="140.85" y2="875.56" stroke="#000" stroke-width="3.0"/>
<line x1="128.55" y1="943.80" x2="140.85" y2="943.80" stroke="#000" stroke-width="3.0"/>
<line x1="117.35" y1="943.80" x2="140.85" y2="943.80" stroke="#000" stroke-width="3.0"/>
<line x1="128.55" y1="954.17" x2="140.85" y2="954.17" stroke="#000" stroke-width="3.0"/>
<line x1="128.55" y1="965.77" x2="140.85" y2="965.77" stroke="#000" stroke-width="3.0"/>
<line x1="128.55" y1="978.92" x2="140.85" y2="978.92" stroke="#000" stroke-width="3.0"/>
<line x1="128.55" y1="994.09" x2="140.85" y2="994.09" stroke="#000" stroke-width="3.0"/>
<line x1="122.25" y1="1012.04" x2="140.85" y2="1012.04" stroke="#000" stroke-width="3.0"/>
<line x1="128.55" y1="1034.01" x2="140.85" y2="1034.01" stroke="#000" stroke-width="3.0"/>
<line x1="128.55" y1="1062.34" x2="140.85" y2="1062.34" stroke="#000" stroke-width="3.0"/>
<line x1="128.55" y1="1102.26" x2="140.85" y2="1102.26" stroke="#000" stroke-width="3.0"/>
<line x1="117.35" y1="1170.50" x2="140.85" y2="1170.50" stroke="#000" stroke-width="3.0"/>
<line x1="140.85" y1="1170.70" x2="140.85" y2="1194.40" stroke="#000" stroke-width="3.0"/>
<line x1="155.56" y1="1170.70" x2="155.56" y2="1182.80" stroke="#000" stroke-width="3.0"/>
<line x1="170.28" y1="1170.70" x2="170.28" y2="1182.80" stroke="#000" stroke-width="3.0"/>
<line x1="185.00" y1="1170.70" x2="185.00" y2="1182.80" stroke="#000" stroke-width="3.0"/>
<line x1="199.71" y1="1170.70" x2="199.71" y2="1182.80" stroke="#000" stroke-width="3.0"/>
<line x1="214.43" y1="1170.70" x2="214.43" y2="1185.80" stroke="#000" stroke-width="3.0"/>
<line x1="229.14" y1="1170.70" x2="229.14" y2="1182.80" stroke="#000" stroke-width="3.0"/>
<line x1="243.85" y1="1170.70" x2="243.85" y2="1182.80" stroke="#000" stroke-width="3.0"/>
<line x1="258.57" y1="1170.70" x2="258.57" y2="1182.80" stroke="#000" stroke-width="3.0"/>
<line x1="273.28" y1="1170.70" x2="273.28" y2="1182.80" stroke="#000" stroke-width="3.0"/>
<line x1="288.00" y1="1170.70" x2="288.00" y2="1194.40" stroke="#000" stroke-width="3.0"/>
<line x1="302.72" y1="1170.70" x2="302.72" y2="1182.80" stroke="#000" stroke-width="3.0"/>
<line x1="317.43" y1="1170.70" x2="317.43" y2="1182.80" stroke="#000" stroke-width="3.0"/>
<line x1="332.14" y1="1170.70" x2="332.14" y2="1182.80" stroke="#000" stroke-width="3.0"/>
<line x1="346.86" y1="1170.70" x2="346.86" y2="1182.80" stroke="#000" stroke-width="3.0"/>
<line x1="361.57" y1="1170.70" x2="361.57" y2="1185.80" stroke="#000" stroke-width="3.0"/>
<line x1="376.29" y1="1170.70" x2="376.29" y2="1182.80" stroke="#000" stroke-width="3.0"/>
<line x1="391.00" y1="1170.70" x2="391.00" y2="1182.80" stroke="#000" stroke-width="3.0"/>
<line x1="405.72" y1="1170.70" x2="405.72" y2="1182.80" stroke="#000" stroke-width="3.0"/>
<line x1="420.43" y1="1170.70" x2="420.43" y2="1182.80" stroke="#000" stroke-width="3.0"/>
<line x1="435.15" y1="1170.70" x2="435.15" y2="1194.40" stroke="#000" stroke-width="3.0"/>
<line x1="449.87" y1="1170.70" x2="449.87" y2="1182.80" stroke="#000" stroke-width="3.0"/>
<line x1="464.58" y1="1170.70" x2="464.58" y2="1182.80" stroke="#000" stroke-width="3.0"/>
<line x1="479.30" y1="1170.70" x2="479.30" y2="1182.80" stroke="#000" stroke-width="3.0"/>
<line x1="494.01" y1="1170.70" x2="494.01" y2="1182.80" stroke="#000" stroke-width="3.0"/>
<line x1="508.73" y1="1170.70" x2="508.73" y2="1185.80" stroke="#000" stroke-width="3.0"/>
<line x1="523.44" y1="1170.70" x2="523.44" y2="1182.80" stroke="#000" stroke-width="3.0"/>
<line x1="538.15" y1="1170.70" x2="538.15" y2="1182.80" stroke="#000" stroke-width="3.0"/>
<line x1="552.87" y1="1170.70" x2="552.87" y2="1182.80" stroke="#000" stroke-width="3.0"/>
<line x1="567.59" y1="1170.70" x2="567.59" y2="1182.80" stroke="#000" stroke-width="3.0"/>
<line x1="582.30" y1="1170.70" x2="582.30" y2="1194.40" stroke="#000" stroke-width="3.0"/>
<line x1="597.02" y1="1170.70" x2="597.02" y2="1182.80" stroke="#000" stroke-width="3.0"/>
<line x1="611.73" y1="1170.70" x2="611.73" y2="1182.80" stroke="#000" stroke-width="3.0"/>
<line x1="626.44" y1="1170.70" x2="626.44" y2="1182.80" stroke="#000" stroke-width="3.0"/>
<line x1="641.16" y1="1170.70" x2="641.16" y2="1182.80" stroke="#000" stroke-width="3.0"/>
<line x1="655.88" y1="1170.70" x2="655.88" y2="1185.80" stroke="#000" stroke-width="3.0"/>
<line x1="670.59" y1="1170.70" x2="670.59" y2="1182.80" stroke="#000" stroke-width="3.0"/>
<line x1="685.31" y1="1170.70" x2="685.31" y2="1182.80" stroke="#000" stroke-width="3.0"/>
<line x1="700.02" y1="1170.70" x2="700.02" y2="1182.80" stroke="#000" stroke-width="3.0"/>
<line x1="714.74" y1="1170.70" x2="714.74" y2="1182.80" stroke="#000" stroke-width="3.0"/>
<line x1="729.45" y1="1170.70" x2="729.45" y2="1194.40" stroke="#000" stroke-width="3.0"/>
<text x="131.53" y="1230.20" class="t">0</text>
<text x="278.68" y="1230.20" class="t"> </text><path transform="translate(278.68,1230.20) scale(0.01636,-0.01636)" d="M515,0 L515,1237 L197,1010 L197,1180 L530,1409 L696,1409 L696,0 Z" fill="#000"/>
<text x="425.83" y="1230.20" class="t">2</text>
<text x="572.98" y="1230.20" class="t">3</text>
<text x="720.13" y="1230.20" class="t">4</text>
<text x="435" y="1273.90" text-anchor="middle" class="t">Time [Ga]</text>
<text transform="translate(32.6,1166.70) rotate(-90)" class="t" style="font-size:33.6px">Oxygenation parameter (<tspan font-style="italic" font-size="35.5" dx="0.8">K</tspan><tspan font-size="24" dy="8" dx="0.4">oxy</tspan><tspan dy="-8" dx="0.2">)</tspan></text>
<rect x="140.85" y="1381.70" width="588.55" height="453.80" fill="none" stroke="#000" stroke-width="3.0"/>
<line x1="117.35" y1="1381.70" x2="140.85" y2="1381.70" stroke="#000" stroke-width="3.0"/>
<line x1="128.55" y1="1390.00" x2="140.85" y2="1390.00" stroke="#000" stroke-width="3.0"/>
<line x1="128.55" y1="1399.28" x2="140.85" y2="1399.28" stroke="#000" stroke-width="3.0"/>
<line x1="128.55" y1="1409.81" x2="140.85" y2="1409.81" stroke="#000" stroke-width="3.0"/>
<line x1="128.55" y1="1421.95" x2="140.85" y2="1421.95" stroke="#000" stroke-width="3.0"/>
<line x1="122.25" y1="1436.32" x2="140.85" y2="1436.32" stroke="#000" stroke-width="3.0"/>
<line x1="128.55" y1="1453.91" x2="140.85" y2="1453.91" stroke="#000" stroke-width="3.0"/>
<line x1="128.55" y1="1476.58" x2="140.85" y2="1476.58" stroke="#000" stroke-width="3.0"/>
<line x1="128.55" y1="1508.53" x2="140.85" y2="1508.53" stroke="#000" stroke-width="3.0"/>
<line x1="128.55" y1="1563.15" x2="140.85" y2="1563.15" stroke="#000" stroke-width="3.0"/>
<line x1="117.35" y1="1563.15" x2="140.85" y2="1563.15" stroke="#000" stroke-width="3.0"/>
<line x1="128.55" y1="1571.45" x2="140.85" y2="1571.45" stroke="#000" stroke-width="3.0"/>
<line x1="128.55" y1="1580.73" x2="140.85" y2="1580.73" stroke="#000" stroke-width="3.0"/>
<line x1="128.55" y1="1591.26" x2="140.85" y2="1591.26" stroke="#000" stroke-width="3.0"/>
<line x1="128.55" y1="1603.40" x2="140.85" y2="1603.40" stroke="#000" stroke-width="3.0"/>
<line x1="122.25" y1="1617.77" x2="140.85" y2="1617.77" stroke="#000" stroke-width="3.0"/>
<line x1="128.55" y1="1635.36" x2="140.85" y2="1635.36" stroke="#000" stroke-width="3.0"/>
<line x1="128.55" y1="1658.03" x2="140.85" y2="1658.03" stroke="#000" stroke-width="3.0"/>
<line x1="128.55" y1="1689.98" x2="140.85" y2="1689.98" stroke="#000" stroke-width="3.0"/>
<line x1="128.55" y1="1744.60" x2="140.85" y2="1744.60" stroke="#000" stroke-width="3.0"/>
<line x1="117.35" y1="1744.60" x2="140.85" y2="1744.60" stroke="#000" stroke-width="3.0"/>
<line x1="128.55" y1="1752.90" x2="140.85" y2="1752.90" stroke="#000" stroke-width="3.0"/>
<line x1="128.55" y1="1762.18" x2="140.85" y2="1762.18" stroke="#000" stroke-width="3.0"/>
<line x1="128.55" y1="1772.71" x2="140.85" y2="1772.71" stroke="#000" stroke-width="3.0"/>
<line x1="128.55" y1="1784.85" x2="140.85" y2="1784.85" stroke="#000" stroke-width="3.0"/>
<line x1="122.25" y1="1799.22" x2="140.85" y2="1799.22" stroke="#000" stroke-width="3.0"/>
<line x1="128.55" y1="1816.81" x2="140.85" y2="1816.81" stroke="#000" stroke-width="3.0"/>
<line x1="140.85" y1="1835.50" x2="140.85" y2="1859.20" stroke="#000" stroke-width="3.0"/>
<line x1="155.56" y1="1835.50" x2="155.56" y2="1847.60" stroke="#000" stroke-width="3.0"/>
<line x1="170.28" y1="1835.50" x2="170.28" y2="1847.60" stroke="#000" stroke-width="3.0"/>
<line x1="185.00" y1="1835.50" x2="185.00" y2="1847.60" stroke="#000" stroke-width="3.0"/>
<line x1="199.71" y1="1835.50" x2="199.71" y2="1847.60" stroke="#000" stroke-width="3.0"/>
<line x1="214.43" y1="1835.50" x2="214.43" y2="1850.60" stroke="#000" stroke-width="3.0"/>
<line x1="229.14" y1="1835.50" x2="229.14" y2="1847.60" stroke="#000" stroke-width="3.0"/>
<line x1="243.85" y1="1835.50" x2="243.85" y2="1847.60" stroke="#000" stroke-width="3.0"/>
<line x1="258.57" y1="1835.50" x2="258.57" y2="1847.60" stroke="#000" stroke-width="3.0"/>
<line x1="273.28" y1="1835.50" x2="273.28" y2="1847.60" stroke="#000" stroke-width="3.0"/>
<line x1="288.00" y1="1835.50" x2="288.00" y2="1859.20" stroke="#000" stroke-width="3.0"/>
<line x1="302.72" y1="1835.50" x2="302.72" y2="1847.60" stroke="#000" stroke-width="3.0"/>
<line x1="317.43" y1="1835.50" x2="317.43" y2="1847.60" stroke="#000" stroke-width="3.0"/>
<line x1="332.14" y1="1835.50" x2="332.14" y2="1847.60" stroke="#000" stroke-width="3.0"/>
<line x1="346.86" y1="1835.50" x2="346.86" y2="1847.60" stroke="#000" stroke-width="3.0"/>
<line x1="361.57" y1="1835.50" x2="361.57" y2="1850.60" stroke="#000" stroke-width="3.0"/>
<line x1="376.29" y1="1835.50" x2="376.29" y2="1847.60" stroke="#000" stroke-width="3.0"/>
<line x1="391.00" y1="1835.50" x2="391.00" y2="1847.60" stroke="#000" stroke-width="3.0"/>
<line x1="405.72" y1="1835.50" x2="405.72" y2="1847.60" stroke="#000" stroke-width="3.0"/>
<line x1="420.43" y1="1835.50" x2="420.43" y2="1847.60" stroke="#000" stroke-width="3.0"/>
<line x1="435.15" y1="1835.50" x2="435.15" y2="1859.20" stroke="#000" stroke-width="3.0"/>
<line x1="449.87" y1="1835.50" x2="449.87" y2="1847.60" stroke="#000" stroke-width="3.0"/>
<line x1="464.58" y1="1835.50" x2="464.58" y2="1847.60" stroke="#000" stroke-width="3.0"/>
<line x1="479.30" y1="1835.50" x2="479.30" y2="1847.60" stroke="#000" stroke-width="3.0"/>
<line x1="494.01" y1="1835.50" x2="494.01" y2="1847.60" stroke="#000" stroke-width="3.0"/>
<line x1="508.73" y1="1835.50" x2="508.73" y2="1850.60" stroke="#000" stroke-width="3.0"/>
<line x1="523.44" y1="1835.50" x2="523.44" y2="1847.60" stroke="#000" stroke-width="3.0"/>
<line x1="538.15" y1="1835.50" x2="538.15" y2="1847.60" stroke="#000" stroke-width="3.0"/>
<line x1="552.87" y1="1835.50" x2="552.87" y2="1847.60" stroke="#000" stroke-width="3.0"/>
<line x1="567.59" y1="1835.50" x2="567.59" y2="1847.60" stroke="#000" stroke-width="3.0"/>
<line x1="582.30" y1="1835.50" x2="582.30" y2="1859.20" stroke="#000" stroke-width="3.0"/>
<line x1="597.02" y1="1835.50" x2="597.02" y2="1847.60" stroke="#000" stroke-width="3.0"/>
<line x1="611.73" y1="1835.50" x2="611.73" y2="1847.60" stroke="#000" stroke-width="3.0"/>
<line x1="626.44" y1="1835.50" x2="626.44" y2="1847.60" stroke="#000" stroke-width="3.0"/>
<line x1="641.16" y1="1835.50" x2="641.16" y2="1847.60" stroke="#000" stroke-width="3.0"/>
<line x1="655.88" y1="1835.50" x2="655.88" y2="1850.60" stroke="#000" stroke-width="3.0"/>
<line x1="670.59" y1="1835.50" x2="670.59" y2="1847.60" stroke="#000" stroke-width="3.0"/>
<line x1="685.31" y1="1835.50" x2="685.31" y2="1847.60" stroke="#000" stroke-width="3.0"/>
<line x1="700.02" y1="1835.50" x2="700.02" y2="1847.60" stroke="#000" stroke-width="3.0"/>
<line x1="714.74" y1="1835.50" x2="714.74" y2="1847.60" stroke="#000" stroke-width="3.0"/>
<line x1="729.45" y1="1835.50" x2="729.45" y2="1859.20" stroke="#000" stroke-width="3.0"/>
<text x="131.53" y="1895.00" class="t">0</text>
<text x="278.68" y="1895.00" class="t"> </text><path transform="translate(278.68,1895.00) scale(0.01636,-0.01636)" d="M515,0 L515,1237 L197,1010 L197,1180 L530,1409 L696,1409 L696,0 Z" fill="#000"/>
<text x="425.83" y="1895.00" class="t">2</text>
<text x="572.98" y="1895.00" class="t">3</text>
<text x="720.13" y="1895.00" class="t">4</text>
<text x="435" y="1938.70" text-anchor="middle" class="t">Time [Ga]</text>
<text transform="translate(32.6,1831.30) rotate(-90)" class="t" style="font-size:33.6px">Oxygenation parameter (<tspan font-style="italic" font-size="35.5" dx="0.8">K</tspan><tspan font-size="24" dy="8" dx="0.4">oxy</tspan><tspan dy="-8" dx="0.2">)</tspan></text>
<text transform="translate(716.3,201.45) rotate(-90)" class="t">Oxic</text>
<text transform="translate(716.3,456.85) rotate(-90)" class="t">Anoxic</text>
<line x1="706.1" y1="271.25" x2="706.1" y2="226.85" stroke="#000" stroke-width="3"/>
<path d="M706.1,211.65 Q710.30,223.35 717.50,231.75 L706.1,228.25 L694.70,231.75 Q701.90,223.35 706.1,211.65 Z" fill="#000"/>
<line x1="706.1" y1="286.55" x2="706.1" y2="330.85" stroke="#000" stroke-width="3"/>
<path d="M706.1,346.65 Q710.30,334.95 717.50,326.55 L706.1,330.05 L694.70,326.55 Q701.90,334.95 706.1,346.65 Z" fill="#000"/>
<text transform="translate(716.3,866.40) rotate(-90)" class="t">Oxic</text>
<text transform="translate(716.3,1121.80) rotate(-90)" class="t">Anoxic</text>
<line x1="706.1" y1="936.20" x2="706.1" y2="891.80" stroke="#000" stroke-width="3"/>
<path d="M706.1,876.60 Q710.30,888.30 717.50,896.70 L706.1,893.20 L694.70,896.70 Q701.90,888.30 706.1,876.60 Z" fill="#000"/>
<line x1="706.1" y1="951.50" x2="706.1" y2="995.80" stroke="#000" stroke-width="3"/>
<path d="M706.1,1011.60 Q710.30,999.90 717.50,991.50 L706.1,995.00 L694.70,991.50 Q701.90,999.90 706.1,1011.60 Z" fill="#000"/>
<text transform="translate(716.3,1488.15) rotate(-90)" class="t">Oxic</text>
<text transform="translate(716.3,1743.55) rotate(-90)" class="t">Anoxic</text>
<line x1="706.1" y1="1552.95" x2="706.1" y2="1508.55" stroke="#000" stroke-width="3"/>
<path d="M706.1,1493.35 Q710.30,1505.05 717.50,1513.45 L706.1,1509.95 L694.70,1513.45 Q701.90,1505.05 706.1,1493.35 Z" fill="#000"/>
<line x1="706.1" y1="1568.25" x2="706.1" y2="1612.55" stroke="#000" stroke-width="3"/>
<path d="M706.1,1628.35 Q710.30,1616.65 717.50,1608.25 L706.1,1611.75 L694.70,1608.25 Q701.90,1616.65 706.1,1628.35 Z" fill="#000"/>
<text x="69.04" y="61.65" class="t"> 0</text><path transform="translate(69.04,61.65) scale(0.01636,-0.01636)" d="M515,0 L515,1237 L197,1010 L197,1180 L530,1409 L696,1409 L696,0 Z" fill="#000"/>
<text x="87.67" y="288.35" class="t"> </text><path transform="translate(87.67,288.35) scale(0.01636,-0.01636)" d="M515,0 L515,1237 L197,1010 L197,1180 L530,1409 L696,1409 L696,0 Z" fill="#000"/>
<text x="59.73" y="515.05" class="t">0. </text><path transform="translate(87.67,515.05) scale(0.01636,-0.01636)" d="M515,0 L515,1237 L197,1010 L197,1180 L530,1409 L696,1409 L696,0 Z" fill="#000"/>
<text x="69.04" y="726.60" class="t"> 0</text><path transform="translate(69.04,726.60) scale(0.01636,-0.01636)" d="M515,0 L515,1237 L197,1010 L197,1180 L530,1409 L696,1409 L696,0 Z" fill="#000"/>
<text x="87.67" y="953.30" class="t"> </text><path transform="translate(87.67,953.30) scale(0.01636,-0.01636)" d="M515,0 L515,1237 L197,1010 L197,1180 L530,1409 L696,1409 L696,0 Z" fill="#000"/>
<text x="59.73" y="1180.00" class="t">0. </text><path transform="translate(87.67,1180.00) scale(0.01636,-0.01636)" d="M515,0 L515,1237 L197,1010 L197,1180 L530,1409 L696,1409 L696,0 Z" fill="#000"/>
<text x="69.04" y="1391.20" class="t"> 0</text><path transform="translate(69.04,1391.20) scale(0.01636,-0.01636)" d="M515,0 L515,1237 L197,1010 L197,1180 L530,1409 L696,1409 L696,0 Z" fill="#000"/>
<text x="87.67" y="1572.65" class="t"> </text><path transform="translate(87.67,1572.65) scale(0.01636,-0.01636)" d="M515,0 L515,1237 L197,1010 L197,1180 L530,1409 L696,1409 L696,0 Z" fill="#000"/>
<text x="59.73" y="1754.10" class="t">0. </text><path transform="translate(87.67,1754.10) scale(0.01636,-0.01636)" d="M515,0 L515,1237 L197,1010 L197,1180 L530,1409 L696,1409 L696,0 Z" fill="#000"/>
<text x="4.3" y="22.9" class="p">a</text>
<text x="8.5" y="687.6" class="p">b</text>
<text x="-1.2" y="1352.9" class="p">c</text>
<line x1="206.1" y1="114.0" x2="240.8" y2="80.2" stroke="#000" stroke-width="3"/>
<line x1="238.6" y1="163.5" x2="287.8" y2="113.6" stroke="#000" stroke-width="3"/>
<line x1="287.5" y1="217.8" x2="362.0" y2="143.3" stroke="#000" stroke-width="3"/>
<text x="248.2" y="88.0" class="s">95% prob. quantile</text>
<text x="297.8" y="120.2" class="s">Median</text>
<text x="373.0" y="150.9" class="s">5% prob. quantile</text>
<line x1="205.9" y1="779.3" x2="241.1" y2="745.3" stroke="#000" stroke-width="3"/>
<line x1="249.1" y1="815.9" x2="288.7" y2="778.4" stroke="#000" stroke-width="3"/>
<line x1="278.3" y1="865.3" x2="338.3" y2="805.6" stroke="#000" stroke-width="3"/>
<text x="248.6" y="751.8" class="s">95% prob. quantile</text>
<text x="297.3" y="784.5" class="s">Median</text>
<text x="348.0" y="814.9" class="s">5% prob. quantile</text>
<text x="604.5" y="1439.3" class="s" style="fill:#ee7700">FMQ</text>
<text x="567.20" y="1658.00" class="s">FMQ- </text><path transform="translate(642.05,1658.00) scale(0.01431,-0.01431)" d="M515,0 L515,1237 L197,1010 L197,1180 L530,1409 L696,1409 L696,0 Z" fill="#000"/>
<text x="557.0" y="1789.4" class="s" style="fill:#4a74bb">FMQ-2</text>
</svg></body></html>
